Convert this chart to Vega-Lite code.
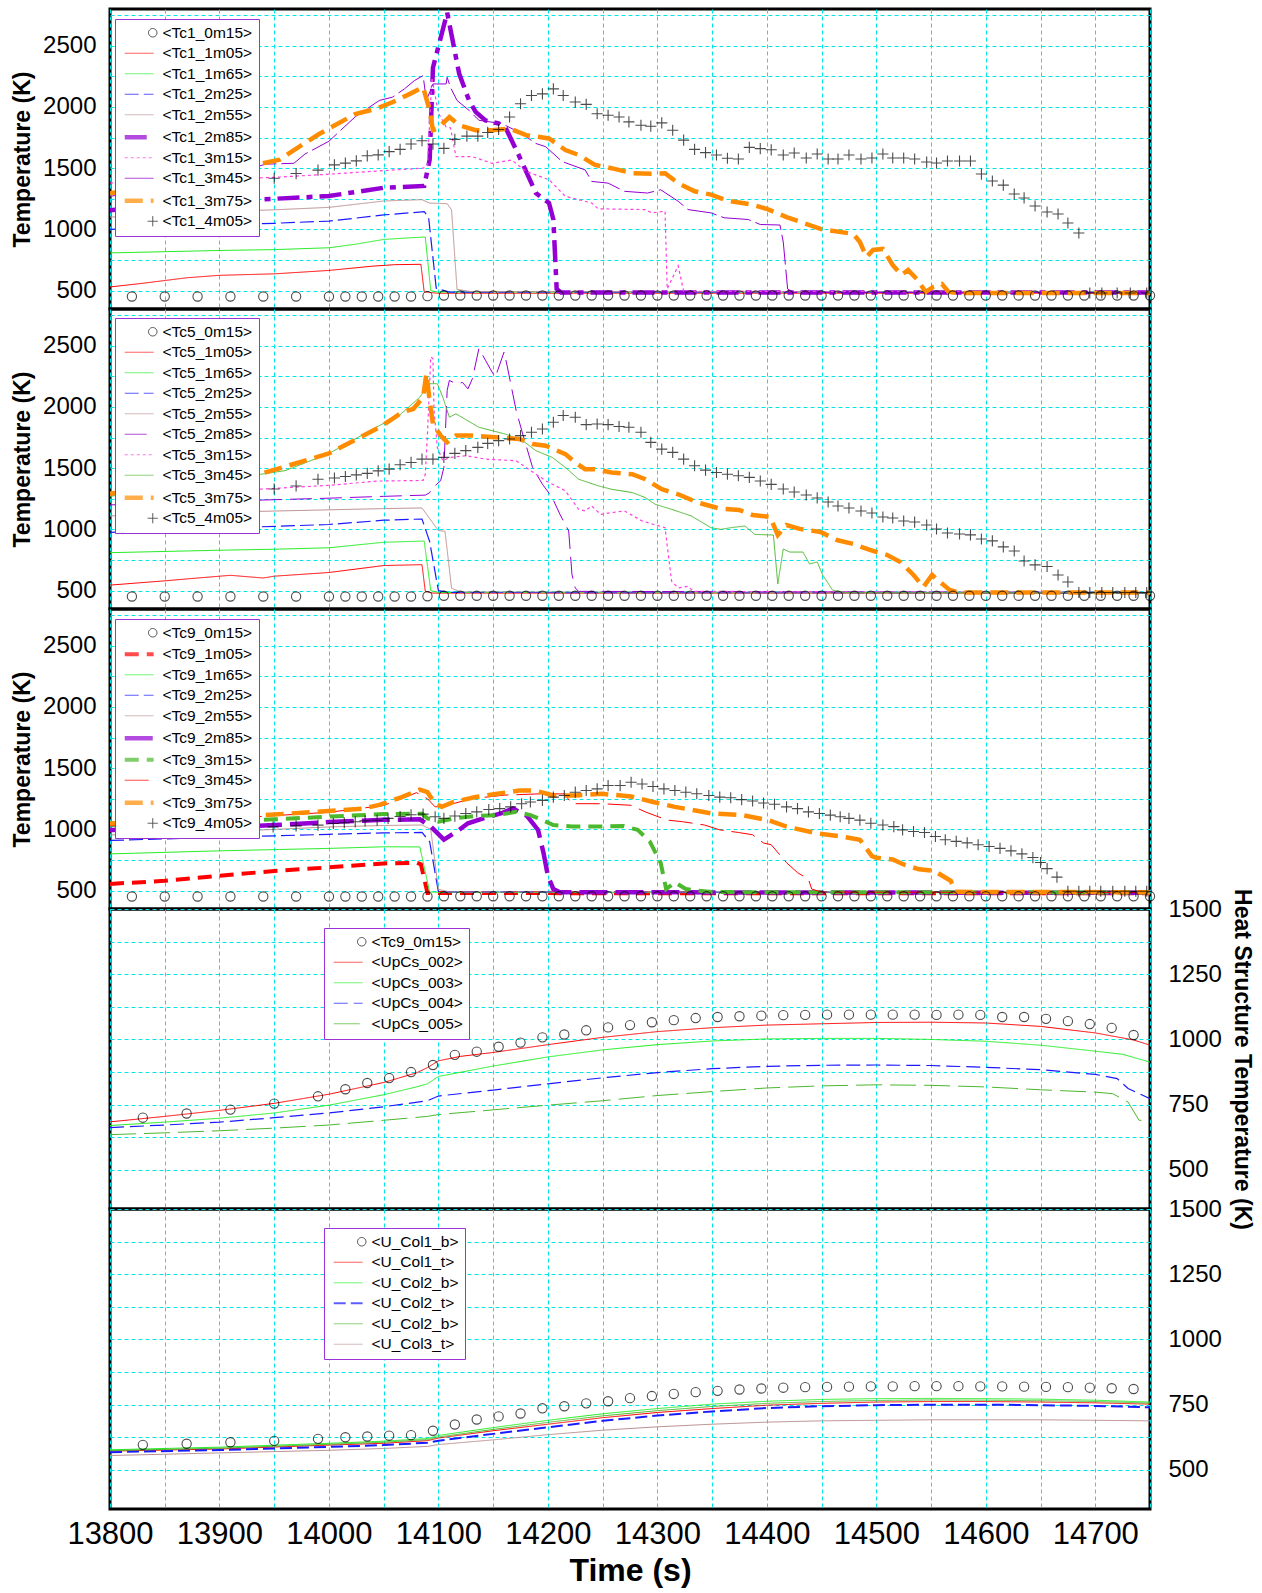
{
  "$schema": "https://vega.github.io/schema/vega-lite/v6.json",
  "background": "white",
  "padding": {"left": 10, "top": 1, "right": 5, "bottom": 3},
  "spacing": 0,
  "bounds": "flush",
  "datasets": {
    "aP": [
      {"s":"<Tc1_0m15>","t":13820,"v":452},{"s":"<Tc1_0m15>","t":13850,"v":452},{"s":"<Tc1_0m15>","t":13880,"v":452},{"s":"<Tc1_0m15>","t":13910,"v":452},{"s":"<Tc1_0m15>","t":13940,"v":452},{"s":"<Tc1_0m15>","t":13970,"v":452},{"s":"<Tc1_0m15>","t":14000,"v":452},{"s":"<Tc1_0m15>","t":14015,"v":452},{"s":"<Tc1_0m15>","t":14030,"v":452},{"s":"<Tc1_0m15>","t":14045,"v":452},{"s":"<Tc1_0m15>","t":14060,"v":452},{"s":"<Tc1_0m15>","t":14075,"v":452},{"s":"<Tc1_0m15>","t":14090,"v":455},
      {"s":"<Tc1_0m15>","t":14105,"v":460},{"s":"<Tc1_0m15>","t":14120,"v":460},{"s":"<Tc1_0m15>","t":14135,"v":460},{"s":"<Tc1_0m15>","t":14150,"v":460},{"s":"<Tc1_0m15>","t":14165,"v":460},{"s":"<Tc1_0m15>","t":14180,"v":460},{"s":"<Tc1_0m15>","t":14195,"v":460},{"s":"<Tc1_0m15>","t":14210,"v":460},{"s":"<Tc1_0m15>","t":14225,"v":460},{"s":"<Tc1_0m15>","t":14240,"v":460},{"s":"<Tc1_0m15>","t":14255,"v":460},{"s":"<Tc1_0m15>","t":14270,"v":460},{"s":"<Tc1_0m15>","t":14285,"v":460},{"s":"<Tc1_0m15>","t":14300,"v":460},{"s":"<Tc1_0m15>","t":14315,"v":460},{"s":"<Tc1_0m15>","t":14330,"v":460},{"s":"<Tc1_0m15>","t":14345,"v":460},{"s":"<Tc1_0m15>","t":14360,"v":460},{"s":"<Tc1_0m15>","t":14375,"v":460},{"s":"<Tc1_0m15>","t":14390,"v":460},{"s":"<Tc1_0m15>","t":14405,"v":460},{"s":"<Tc1_0m15>","t":14420,"v":460},{"s":"<Tc1_0m15>","t":14435,"v":460},{"s":"<Tc1_0m15>","t":14450,"v":460},{"s":"<Tc1_0m15>","t":14465,"v":460},{"s":"<Tc1_0m15>","t":14480,"v":460},{"s":"<Tc1_0m15>","t":14495,"v":460},{"s":"<Tc1_0m15>","t":14510,"v":460},{"s":"<Tc1_0m15>","t":14525,"v":460},{"s":"<Tc1_0m15>","t":14540,"v":460},{"s":"<Tc1_0m15>","t":14555,"v":460},{"s":"<Tc1_0m15>","t":14570,"v":460},{"s":"<Tc1_0m15>","t":14585,"v":460},{"s":"<Tc1_0m15>","t":14600,"v":460},{"s":"<Tc1_0m15>","t":14615,"v":460},{"s":"<Tc1_0m15>","t":14630,"v":460},{"s":"<Tc1_0m15>","t":14645,"v":460},{"s":"<Tc1_0m15>","t":14660,"v":460},{"s":"<Tc1_0m15>","t":14675,"v":460},{"s":"<Tc1_0m15>","t":14690,"v":460},{"s":"<Tc1_0m15>","t":14705,"v":460},{"s":"<Tc1_0m15>","t":14720,"v":460},{"s":"<Tc1_0m15>","t":14735,"v":460},{"s":"<Tc1_0m15>","t":14750,"v":460},
      {"s":"<Tc1_4m05>","t":13950,"v":1418},{"s":"<Tc1_4m05>","t":13970,"v":1456},{"s":"<Tc1_4m05>","t":13990,"v":1484},{"s":"<Tc1_4m05>","t":14005,"v":1527},{"s":"<Tc1_4m05>","t":14015,"v":1541},{"s":"<Tc1_4m05>","t":14025,"v":1560},{"s":"<Tc1_4m05>","t":14035,"v":1601},{"s":"<Tc1_4m05>","t":14045,"v":1609},{"s":"<Tc1_4m05>","t":14055,"v":1635},{"s":"<Tc1_4m05>","t":14065,"v":1654},{"s":"<Tc1_4m05>","t":14075,"v":1697},{"s":"<Tc1_4m05>","t":14085,"v":1724},{"s":"<Tc1_4m05>","t":14095,"v":1697},{"s":"<Tc1_4m05>","t":14105,"v":1662},{"s":"<Tc1_4m05>","t":14115,"v":1735},{"s":"<Tc1_4m05>","t":14126,"v":1762},{"s":"<Tc1_4m05>","t":14136,"v":1762},{"s":"<Tc1_4m05>","t":14145,"v":1792},{"s":"<Tc1_4m05>","t":14155,"v":1816},{"s":"<Tc1_4m05>","t":14165,"v":1918},{"s":"<Tc1_4m05>","t":14175,"v":2026},{"s":"<Tc1_4m05>","t":14185,"v":2094},{"s":"<Tc1_4m05>","t":14195,"v":2107},{"s":"<Tc1_4m05>","t":14205,"v":2148},{"s":"<Tc1_4m05>","t":14214,"v":2094},{"s":"<Tc1_4m05>","t":14225,"v":2040},{"s":"<Tc1_4m05>","t":14235,"v":2021},{"s":"<Tc1_4m05>","t":14245,"v":1945},{"s":"<Tc1_4m05>","t":14255,"v":1932},{"s":"<Tc1_4m05>","t":14265,"v":1918},{"s":"<Tc1_4m05>","t":14274,"v":1878},{"s":"<Tc1_4m05>","t":14285,"v":1851},{"s":"<Tc1_4m05>","t":14294,"v":1843},{"s":"<Tc1_4m05>","t":14304,"v":1870},{"s":"<Tc1_4m05>","t":14314,"v":1810},{"s":"<Tc1_4m05>","t":14324,"v":1729},{"s":"<Tc1_4m05>","t":14334,"v":1654},{"s":"<Tc1_4m05>","t":14344,"v":1627},{"s":"<Tc1_4m05>","t":14354,"v":1608},{"s":"<Tc1_4m05>","t":14364,"v":1581},{"s":"<Tc1_4m05>","t":14374,"v":1575},{"s":"<Tc1_4m05>","t":14384,"v":1670},{"s":"<Tc1_4m05>","t":14394,"v":1660},{"s":"<Tc1_4m05>","t":14404,"v":1650},{"s":"<Tc1_4m05>","t":14415,"v":1608},{"s":"<Tc1_4m05>","t":14425,"v":1624},{"s":"<Tc1_4m05>","t":14436,"v":1583},{"s":"<Tc1_4m05>","t":14446,"v":1616},{"s":"<Tc1_4m05>","t":14456,"v":1575},{"s":"<Tc1_4m05>","t":14465,"v":1575},{"s":"<Tc1_4m05>","t":14475,"v":1608},{"s":"<Tc1_4m05>","t":14486,"v":1575},{"s":"<Tc1_4m05>","t":14496,"v":1583},{"s":"<Tc1_4m05>","t":14506,"v":1616},{"s":"<Tc1_4m05>","t":14515,"v":1583},{"s":"<Tc1_4m05>","t":14525,"v":1583},{"s":"<Tc1_4m05>","t":14535,"v":1575},{"s":"<Tc1_4m05>","t":14546,"v":1550},{"s":"<Tc1_4m05>","t":14555,"v":1542},{"s":"<Tc1_4m05>","t":14565,"v":1559},{"s":"<Tc1_4m05>","t":14576,"v":1559},{"s":"<Tc1_4m05>","t":14586,"v":1559},{"s":"<Tc1_4m05>","t":14596,"v":1452},{"s":"<Tc1_4m05>","t":14606,"v":1395},{"s":"<Tc1_4m05>","t":14616,"v":1362},{"s":"<Tc1_4m05>","t":14626,"v":1289},{"s":"<Tc1_4m05>","t":14635,"v":1257},{"s":"<Tc1_4m05>","t":14645,"v":1191},{"s":"<Tc1_4m05>","t":14656,"v":1142},{"s":"<Tc1_4m05>","t":14666,"v":1126},{"s":"<Tc1_4m05>","t":14675,"v":1052},{"s":"<Tc1_4m05>","t":14685,"v":971},{"s":"<Tc1_4m05>","t":14695,"v":481},{"s":"<Tc1_4m05>","t":14706,"v":481},{"s":"<Tc1_4m05>","t":14720,"v":481},{"s":"<Tc1_4m05>","t":14732,"v":481},{"s":"<Tc1_4m05>","t":14747,"v":481}
    ],
    "aL": [
      {"s":"<Tc1_1m05>","t":13800,"v":530},{"s":"<Tc1_1m05>","t":13830,"v":560},{"s":"<Tc1_1m05>","t":13870,"v":605},{"s":"<Tc1_1m05>","t":13900,"v":625},{"s":"<Tc1_1m05>","t":13950,"v":637},{"s":"<Tc1_1m05>","t":14000,"v":665},{"s":"<Tc1_1m05>","t":14040,"v":700},{"s":"<Tc1_1m05>","t":14060,"v":712},{"s":"<Tc1_1m05>","t":14084,"v":715},{"s":"<Tc1_1m05>","t":14087,"v":490},{"s":"<Tc1_1m05>","t":14100,"v":478},{"s":"<Tc1_1m05>","t":14750,"v":478},
      {"s":"<Tc1_1m65>","t":13800,"v":808},{"s":"<Tc1_1m65>","t":13850,"v":818},{"s":"<Tc1_1m65>","t":13900,"v":828},{"s":"<Tc1_1m65>","t":13950,"v":835},{"s":"<Tc1_1m65>","t":14000,"v":850},{"s":"<Tc1_1m65>","t":14025,"v":880},{"s":"<Tc1_1m65>","t":14050,"v":918},{"s":"<Tc1_1m65>","t":14075,"v":932},{"s":"<Tc1_1m65>","t":14088,"v":938},{"s":"<Tc1_1m65>","t":14093,"v":500},{"s":"<Tc1_1m65>","t":14100,"v":488},{"s":"<Tc1_1m65>","t":14750,"v":485},
      {"s":"<Tc1_2m25>","t":13800,"v":1000},{"s":"<Tc1_2m25>","t":13850,"v":1020},{"s":"<Tc1_2m25>","t":13900,"v":1038},{"s":"<Tc1_2m25>","t":13950,"v":1050},{"s":"<Tc1_2m25>","t":14000,"v":1068},{"s":"<Tc1_2m25>","t":14050,"v":1118},{"s":"<Tc1_2m25>","t":14087,"v":1145},{"s":"<Tc1_2m25>","t":14091,"v":1100},{"s":"<Tc1_2m25>","t":14098,"v":520},{"s":"<Tc1_2m25>","t":14110,"v":488},{"s":"<Tc1_2m25>","t":14750,"v":485},
      {"s":"<Tc1_2m55>","t":13800,"v":1100},{"s":"<Tc1_2m55>","t":13850,"v":1128},{"s":"<Tc1_2m55>","t":13900,"v":1148},{"s":"<Tc1_2m55>","t":13950,"v":1160},{"s":"<Tc1_2m55>","t":14000,"v":1180},{"s":"<Tc1_2m55>","t":14050,"v":1232},{"s":"<Tc1_2m55>","t":14085,"v":1243},{"s":"<Tc1_2m55>","t":14092,"v":1215},{"s":"<Tc1_2m55>","t":14108,"v":1210},{"s":"<Tc1_2m55>","t":14112,"v":1160},{"s":"<Tc1_2m55>","t":14117,"v":510},{"s":"<Tc1_2m55>","t":14130,"v":492},{"s":"<Tc1_2m55>","t":14750,"v":488},
      {"s":"<Tc1_2m85>","t":13800,"v":1156},{"s":"<Tc1_2m85>","t":13850,"v":1200},{"s":"<Tc1_2m85>","t":13900,"v":1232},{"s":"<Tc1_2m85>","t":13950,"v":1250},{"s":"<Tc1_2m85>","t":14000,"v":1273},{"s":"<Tc1_2m85>","t":14050,"v":1340},{"s":"<Tc1_2m85>","t":14087,"v":1355},{"s":"<Tc1_2m85>","t":14092,"v":1570},{"s":"<Tc1_2m85>","t":14095,"v":2320},{"s":"<Tc1_2m85>","t":14108,"v":2770},{"s":"<Tc1_2m85>","t":14119,"v":2270},{"s":"<Tc1_2m85>","t":14128,"v":2053},{"s":"<Tc1_2m85>","t":14134,"v":1960},{"s":"<Tc1_2m85>","t":14143,"v":1890},{"s":"<Tc1_2m85>","t":14155,"v":1865},{"s":"<Tc1_2m85>","t":14161,"v":1837},{"s":"<Tc1_2m85>","t":14174,"v":1594},{"s":"<Tc1_2m85>","t":14189,"v":1297},{"s":"<Tc1_2m85>","t":14201,"v":1216},{"s":"<Tc1_2m85>","t":14205,"v":1081},{"s":"<Tc1_2m85>","t":14208,"v":514},{"s":"<Tc1_2m85>","t":14212,"v":485},{"s":"<Tc1_2m85>","t":14750,"v":485},
      {"s":"<Tc1_3m15>","t":13800,"v":1380},{"s":"<Tc1_3m15>","t":13850,"v":1395},{"s":"<Tc1_3m15>","t":13900,"v":1410},{"s":"<Tc1_3m15>","t":13950,"v":1425},{"s":"<Tc1_3m15>","t":14000,"v":1451},{"s":"<Tc1_3m15>","t":14050,"v":1480},{"s":"<Tc1_3m15>","t":14086,"v":1500},{"s":"<Tc1_3m15>","t":14090,"v":1520},{"s":"<Tc1_3m15>","t":14094,"v":2240},{"s":"<Tc1_3m15>","t":14100,"v":1950},{"s":"<Tc1_3m15>","t":14107,"v":1837},{"s":"<Tc1_3m15>","t":14111,"v":1830},{"s":"<Tc1_3m15>","t":14116,"v":1594},{"s":"<Tc1_3m15>","t":14131,"v":1594},{"s":"<Tc1_3m15>","t":14149,"v":1540},{"s":"<Tc1_3m15>","t":14167,"v":1567},{"s":"<Tc1_3m15>","t":14180,"v":1473},{"s":"<Tc1_3m15>","t":14201,"v":1406},{"s":"<Tc1_3m15>","t":14216,"v":1270},{"s":"<Tc1_3m15>","t":14240,"v":1216},{"s":"<Tc1_3m15>","t":14246,"v":1168},{"s":"<Tc1_3m15>","t":14289,"v":1162},{"s":"<Tc1_3m15>","t":14295,"v":1135},{"s":"<Tc1_3m15>","t":14307,"v":1149},{"s":"<Tc1_3m15>","t":14309,"v":514},{"s":"<Tc1_3m15>","t":14319,"v":703},{"s":"<Tc1_3m15>","t":14324,"v":495},{"s":"<Tc1_3m15>","t":14750,"v":485},
      {"s":"<Tc1_3m45>","t":13800,"v":1270},{"s":"<Tc1_3m45>","t":13850,"v":1340},{"s":"<Tc1_3m45>","t":13900,"v":1420},{"s":"<Tc1_3m45>","t":13942,"v":1533},{"s":"<Tc1_3m45>","t":13968,"v":1540},{"s":"<Tc1_3m45>","t":13978,"v":1615},{"s":"<Tc1_3m45>","t":14000,"v":1720},{"s":"<Tc1_3m45>","t":14024,"v":1920},{"s":"<Tc1_3m45>","t":14046,"v":2053},{"s":"<Tc1_3m45>","t":14058,"v":2080},{"s":"<Tc1_3m45>","t":14069,"v":2148},{"s":"<Tc1_3m45>","t":14078,"v":2215},{"s":"<Tc1_3m45>","t":14086,"v":2256},{"s":"<Tc1_3m45>","t":14089,"v":2053},{"s":"<Tc1_3m45>","t":14095,"v":2188},{"s":"<Tc1_3m45>","t":14107,"v":2188},{"s":"<Tc1_3m45>","t":14108,"v":2242},{"s":"<Tc1_3m45>","t":14111,"v":2160},{"s":"<Tc1_3m45>","t":14117,"v":2053},{"s":"<Tc1_3m45>","t":14128,"v":1972},{"s":"<Tc1_3m45>","t":14137,"v":1891},{"s":"<Tc1_3m45>","t":14158,"v":1864},{"s":"<Tc1_3m45>","t":14176,"v":1783},{"s":"<Tc1_3m45>","t":14189,"v":1702},{"s":"<Tc1_3m45>","t":14198,"v":1675},{"s":"<Tc1_3m45>","t":14213,"v":1554},{"s":"<Tc1_3m45>","t":14234,"v":1486},{"s":"<Tc1_3m45>","t":14240,"v":1392},{"s":"<Tc1_3m45>","t":14255,"v":1378},{"s":"<Tc1_3m45>","t":14270,"v":1311},{"s":"<Tc1_3m45>","t":14291,"v":1297},{"s":"<Tc1_3m45>","t":14303,"v":1324},{"s":"<Tc1_3m45>","t":14319,"v":1230},{"s":"<Tc1_3m45>","t":14328,"v":1162},{"s":"<Tc1_3m45>","t":14349,"v":1135},{"s":"<Tc1_3m45>","t":14361,"v":1095},{"s":"<Tc1_3m45>","t":14383,"v":1081},{"s":"<Tc1_3m45>","t":14394,"v":1040},{"s":"<Tc1_3m45>","t":14412,"v":1036},{"s":"<Tc1_3m45>","t":14415,"v":897},{"s":"<Tc1_3m45>","t":14419,"v":513},{"s":"<Tc1_3m45>","t":14425,"v":485},{"s":"<Tc1_3m45>","t":14750,"v":485},
      {"s":"<Tc1_3m75>","t":13800,"v":1292},{"s":"<Tc1_3m75>","t":13850,"v":1390},{"s":"<Tc1_3m75>","t":13900,"v":1490},{"s":"<Tc1_3m75>","t":13936,"v":1533},{"s":"<Tc1_3m75>","t":13955,"v":1570},{"s":"<Tc1_3m75>","t":13967,"v":1642},{"s":"<Tc1_3m75>","t":13991,"v":1779},{"s":"<Tc1_3m75>","t":14024,"v":1942},{"s":"<Tc1_3m75>","t":14042,"v":1983},{"s":"<Tc1_3m75>","t":14058,"v":2038},{"s":"<Tc1_3m75>","t":14074,"v":2107},{"s":"<Tc1_3m75>","t":14086,"v":2161},{"s":"<Tc1_3m75>","t":14092,"v":1972},{"s":"<Tc1_3m75>","t":14095,"v":1810},{"s":"<Tc1_3m75>","t":14099,"v":1824},{"s":"<Tc1_3m75>","t":14110,"v":1918},{"s":"<Tc1_3m75>","t":14119,"v":1851},{"s":"<Tc1_3m75>","t":14134,"v":1810},{"s":"<Tc1_3m75>","t":14149,"v":1810},{"s":"<Tc1_3m75>","t":14165,"v":1824},{"s":"<Tc1_3m75>","t":14180,"v":1770},{"s":"<Tc1_3m75>","t":14201,"v":1743},{"s":"<Tc1_3m75>","t":14216,"v":1648},{"s":"<Tc1_3m75>","t":14228,"v":1608},{"s":"<Tc1_3m75>","t":14243,"v":1527},{"s":"<Tc1_3m75>","t":14258,"v":1500},{"s":"<Tc1_3m75>","t":14277,"v":1459},{"s":"<Tc1_3m75>","t":14295,"v":1454},{"s":"<Tc1_3m75>","t":14307,"v":1459},{"s":"<Tc1_3m75>","t":14319,"v":1378},{"s":"<Tc1_3m75>","t":14334,"v":1311},{"s":"<Tc1_3m75>","t":14349,"v":1284},{"s":"<Tc1_3m75>","t":14364,"v":1235},{"s":"<Tc1_3m75>","t":14386,"v":1203},{"s":"<Tc1_3m75>","t":14400,"v":1167},{"s":"<Tc1_3m75>","t":14418,"v":1101},{"s":"<Tc1_3m75>","t":14449,"v":1004},{"s":"<Tc1_3m75>","t":14479,"v":963},{"s":"<Tc1_3m75>","t":14485,"v":897},{"s":"<Tc1_3m75>","t":14491,"v":775},{"s":"<Tc1_3m75>","t":14497,"v":832},{"s":"<Tc1_3m75>","t":14506,"v":840},{"s":"<Tc1_3m75>","t":14515,"v":709},{"s":"<Tc1_3m75>","t":14523,"v":628},{"s":"<Tc1_3m75>","t":14529,"v":668},{"s":"<Tc1_3m75>","t":14537,"v":595},{"s":"<Tc1_3m75>","t":14545,"v":489},{"s":"<Tc1_3m75>","t":14552,"v":530},{"s":"<Tc1_3m75>","t":14560,"v":554},{"s":"<Tc1_3m75>","t":14566,"v":489},{"s":"<Tc1_3m75>","t":14575,"v":480},{"s":"<Tc1_3m75>","t":14750,"v":480}
    ],
    "bP": [
      {"s":"<Tc5_0m15>","t":13820,"v":452},{"s":"<Tc5_0m15>","t":13850,"v":452},{"s":"<Tc5_0m15>","t":13880,"v":452},{"s":"<Tc5_0m15>","t":13910,"v":452},{"s":"<Tc5_0m15>","t":13940,"v":452},{"s":"<Tc5_0m15>","t":13970,"v":452},{"s":"<Tc5_0m15>","t":14000,"v":452},{"s":"<Tc5_0m15>","t":14015,"v":452},{"s":"<Tc5_0m15>","t":14030,"v":452},{"s":"<Tc5_0m15>","t":14045,"v":452},{"s":"<Tc5_0m15>","t":14060,"v":452},{"s":"<Tc5_0m15>","t":14075,"v":452},{"s":"<Tc5_0m15>","t":14090,"v":454},
      {"s":"<Tc5_0m15>","t":14105,"v":458},{"s":"<Tc5_0m15>","t":14120,"v":458},{"s":"<Tc5_0m15>","t":14135,"v":458},{"s":"<Tc5_0m15>","t":14150,"v":458},{"s":"<Tc5_0m15>","t":14165,"v":458},{"s":"<Tc5_0m15>","t":14180,"v":458},{"s":"<Tc5_0m15>","t":14195,"v":458},{"s":"<Tc5_0m15>","t":14210,"v":458},{"s":"<Tc5_0m15>","t":14225,"v":458},{"s":"<Tc5_0m15>","t":14240,"v":458},{"s":"<Tc5_0m15>","t":14255,"v":458},{"s":"<Tc5_0m15>","t":14270,"v":458},{"s":"<Tc5_0m15>","t":14285,"v":458},{"s":"<Tc5_0m15>","t":14300,"v":458},{"s":"<Tc5_0m15>","t":14315,"v":458},{"s":"<Tc5_0m15>","t":14330,"v":458},{"s":"<Tc5_0m15>","t":14345,"v":458},{"s":"<Tc5_0m15>","t":14360,"v":458},{"s":"<Tc5_0m15>","t":14375,"v":458},{"s":"<Tc5_0m15>","t":14390,"v":458},{"s":"<Tc5_0m15>","t":14405,"v":458},{"s":"<Tc5_0m15>","t":14420,"v":458},{"s":"<Tc5_0m15>","t":14435,"v":458},{"s":"<Tc5_0m15>","t":14450,"v":458},{"s":"<Tc5_0m15>","t":14465,"v":458},{"s":"<Tc5_0m15>","t":14480,"v":458},{"s":"<Tc5_0m15>","t":14495,"v":458},{"s":"<Tc5_0m15>","t":14510,"v":458},{"s":"<Tc5_0m15>","t":14525,"v":458},{"s":"<Tc5_0m15>","t":14540,"v":458},{"s":"<Tc5_0m15>","t":14555,"v":458},{"s":"<Tc5_0m15>","t":14570,"v":458},{"s":"<Tc5_0m15>","t":14585,"v":458},{"s":"<Tc5_0m15>","t":14600,"v":458},{"s":"<Tc5_0m15>","t":14615,"v":458},{"s":"<Tc5_0m15>","t":14630,"v":458},{"s":"<Tc5_0m15>","t":14645,"v":458},{"s":"<Tc5_0m15>","t":14660,"v":458},{"s":"<Tc5_0m15>","t":14675,"v":458},{"s":"<Tc5_0m15>","t":14690,"v":458},{"s":"<Tc5_0m15>","t":14705,"v":458},{"s":"<Tc5_0m15>","t":14720,"v":458},{"s":"<Tc5_0m15>","t":14735,"v":458},{"s":"<Tc5_0m15>","t":14750,"v":458},
      {"s":"<Tc5_4m05>","t":13950,"v":1330},{"s":"<Tc5_4m05>","t":13970,"v":1355},{"s":"<Tc5_4m05>","t":13990,"v":1410},{"s":"<Tc5_4m05>","t":14005,"v":1420},{"s":"<Tc5_4m05>","t":14015,"v":1432},{"s":"<Tc5_4m05>","t":14025,"v":1445},{"s":"<Tc5_4m05>","t":14035,"v":1458},{"s":"<Tc5_4m05>","t":14045,"v":1478},{"s":"<Tc5_4m05>","t":14055,"v":1492},{"s":"<Tc5_4m05>","t":14065,"v":1528},{"s":"<Tc5_4m05>","t":14075,"v":1547},{"s":"<Tc5_4m05>","t":14085,"v":1574},{"s":"<Tc5_4m05>","t":14095,"v":1574},{"s":"<Tc5_4m05>","t":14105,"v":1588},{"s":"<Tc5_4m05>","t":14115,"v":1621},{"s":"<Tc5_4m05>","t":14125,"v":1643},{"s":"<Tc5_4m05>","t":14136,"v":1670},{"s":"<Tc5_4m05>","t":14145,"v":1703},{"s":"<Tc5_4m05>","t":14155,"v":1725},{"s":"<Tc5_4m05>","t":14165,"v":1738},{"s":"<Tc5_4m05>","t":14175,"v":1766},{"s":"<Tc5_4m05>","t":14185,"v":1793},{"s":"<Tc5_4m05>","t":14195,"v":1820},{"s":"<Tc5_4m05>","t":14205,"v":1875},{"s":"<Tc5_4m05>","t":14214,"v":1930},{"s":"<Tc5_4m05>","t":14225,"v":1916},{"s":"<Tc5_4m05>","t":14235,"v":1856},{"s":"<Tc5_4m05>","t":14245,"v":1861},{"s":"<Tc5_4m05>","t":14255,"v":1856},{"s":"<Tc5_4m05>","t":14265,"v":1840},{"s":"<Tc5_4m05>","t":14274,"v":1834},{"s":"<Tc5_4m05>","t":14285,"v":1793},{"s":"<Tc5_4m05>","t":14294,"v":1711},{"s":"<Tc5_4m05>","t":14304,"v":1656},{"s":"<Tc5_4m05>","t":14314,"v":1629},{"s":"<Tc5_4m05>","t":14324,"v":1574},{"s":"<Tc5_4m05>","t":14334,"v":1520},{"s":"<Tc5_4m05>","t":14344,"v":1484},{"s":"<Tc5_4m05>","t":14354,"v":1465},{"s":"<Tc5_4m05>","t":14364,"v":1451},{"s":"<Tc5_4m05>","t":14374,"v":1438},{"s":"<Tc5_4m05>","t":14384,"v":1425},{"s":"<Tc5_4m05>","t":14394,"v":1395},{"s":"<Tc5_4m05>","t":14404,"v":1368},{"s":"<Tc5_4m05>","t":14415,"v":1330},{"s":"<Tc5_4m05>","t":14425,"v":1305},{"s":"<Tc5_4m05>","t":14436,"v":1281},{"s":"<Tc5_4m05>","t":14446,"v":1257},{"s":"<Tc5_4m05>","t":14456,"v":1224},{"s":"<Tc5_4m05>","t":14465,"v":1191},{"s":"<Tc5_4m05>","t":14475,"v":1175},{"s":"<Tc5_4m05>","t":14486,"v":1150},{"s":"<Tc5_4m05>","t":14496,"v":1134},{"s":"<Tc5_4m05>","t":14506,"v":1101},{"s":"<Tc5_4m05>","t":14515,"v":1093},{"s":"<Tc5_4m05>","t":14525,"v":1069},{"s":"<Tc5_4m05>","t":14535,"v":1060},{"s":"<Tc5_4m05>","t":14546,"v":1036},{"s":"<Tc5_4m05>","t":14555,"v":1003},{"s":"<Tc5_4m05>","t":14565,"v":971},{"s":"<Tc5_4m05>","t":14576,"v":963},{"s":"<Tc5_4m05>","t":14586,"v":955},{"s":"<Tc5_4m05>","t":14596,"v":922},{"s":"<Tc5_4m05>","t":14606,"v":906},{"s":"<Tc5_4m05>","t":14616,"v":857},{"s":"<Tc5_4m05>","t":14626,"v":824},{"s":"<Tc5_4m05>","t":14635,"v":742},{"s":"<Tc5_4m05>","t":14645,"v":710},{"s":"<Tc5_4m05>","t":14656,"v":697},{"s":"<Tc5_4m05>","t":14666,"v":628},{"s":"<Tc5_4m05>","t":14675,"v":571},{"s":"<Tc5_4m05>","t":14685,"v":485},{"s":"<Tc5_4m05>","t":14695,"v":485},{"s":"<Tc5_4m05>","t":14706,"v":485},{"s":"<Tc5_4m05>","t":14716,"v":485},{"s":"<Tc5_4m05>","t":14727,"v":485},{"s":"<Tc5_4m05>","t":14737,"v":485},{"s":"<Tc5_4m05>","t":14747,"v":485}
    ],
    "bL": [
      {"s":"<Tc5_1m05>","t":13800,"v":545},{"s":"<Tc5_1m05>","t":13850,"v":580},{"s":"<Tc5_1m05>","t":13880,"v":603},{"s":"<Tc5_1m05>","t":13910,"v":625},{"s":"<Tc5_1m05>","t":13940,"v":603},{"s":"<Tc5_1m05>","t":13950,"v":618},{"s":"<Tc5_1m05>","t":14000,"v":648},{"s":"<Tc5_1m05>","t":14050,"v":705},{"s":"<Tc5_1m05>","t":14085,"v":712},{"s":"<Tc5_1m05>","t":14088,"v":495},{"s":"<Tc5_1m05>","t":14095,"v":480},{"s":"<Tc5_1m05>","t":14750,"v":480},
      {"s":"<Tc5_1m65>","t":13800,"v":810},{"s":"<Tc5_1m65>","t":13900,"v":830},{"s":"<Tc5_1m65>","t":13950,"v":838},{"s":"<Tc5_1m65>","t":14000,"v":850},{"s":"<Tc5_1m65>","t":14050,"v":895},{"s":"<Tc5_1m65>","t":14087,"v":905},{"s":"<Tc5_1m65>","t":14093,"v":500},{"s":"<Tc5_1m65>","t":14100,"v":485},{"s":"<Tc5_1m65>","t":14750,"v":482},
      {"s":"<Tc5_2m25>","t":13800,"v":975},{"s":"<Tc5_2m25>","t":13900,"v":1010},{"s":"<Tc5_2m25>","t":14000,"v":1040},{"s":"<Tc5_2m25>","t":14050,"v":1075},{"s":"<Tc5_2m25>","t":14085,"v":1085},{"s":"<Tc5_2m25>","t":14092,"v":900},{"s":"<Tc5_2m25>","t":14100,"v":500},{"s":"<Tc5_2m25>","t":14110,"v":485},{"s":"<Tc5_2m25>","t":14750,"v":482},
      {"s":"<Tc5_2m55>","t":13800,"v":1110},{"s":"<Tc5_2m55>","t":13900,"v":1140},{"s":"<Tc5_2m55>","t":14000,"v":1160},{"s":"<Tc5_2m55>","t":14050,"v":1170},{"s":"<Tc5_2m55>","t":14085,"v":1175},{"s":"<Tc5_2m55>","t":14100,"v":990},{"s":"<Tc5_2m55>","t":14106,"v":985},{"s":"<Tc5_2m55>","t":14112,"v":520},{"s":"<Tc5_2m55>","t":14120,"v":490},{"s":"<Tc5_2m55>","t":14750,"v":486},
      {"s":"<Tc5_2m85>","t":13800,"v":1200},{"s":"<Tc5_2m85>","t":13900,"v":1230},{"s":"<Tc5_2m85>","t":14000,"v":1255},{"s":"<Tc5_2m85>","t":14050,"v":1270},{"s":"<Tc5_2m85>","t":14088,"v":1280},{"s":"<Tc5_2m85>","t":14092,"v":1300},{"s":"<Tc5_2m85>","t":14095,"v":1342},{"s":"<Tc5_2m85>","t":14102,"v":1397},{"s":"<Tc5_2m85>","t":14105,"v":1506},{"s":"<Tc5_2m85>","t":14108,"v":2135},{"s":"<Tc5_2m85>","t":14110,"v":2217},{"s":"<Tc5_2m85>","t":14116,"v":2190},{"s":"<Tc5_2m85>","t":14122,"v":2200},{"s":"<Tc5_2m85>","t":14127,"v":2148},{"s":"<Tc5_2m85>","t":14131,"v":2230},{"s":"<Tc5_2m85>","t":14137,"v":2477},{"s":"<Tc5_2m85>","t":14143,"v":2381},{"s":"<Tc5_2m85>","t":14149,"v":2285},{"s":"<Tc5_2m85>","t":14152,"v":2244},{"s":"<Tc5_2m85>","t":14160,"v":2449},{"s":"<Tc5_2m85>","t":14163,"v":2326},{"s":"<Tc5_2m85>","t":14171,"v":1971},{"s":"<Tc5_2m85>","t":14177,"v":1779},{"s":"<Tc5_2m85>","t":14186,"v":1506},{"s":"<Tc5_2m85>","t":14195,"v":1369},{"s":"<Tc5_2m85>","t":14204,"v":1260},{"s":"<Tc5_2m85>","t":14211,"v":1123},{"s":"<Tc5_2m85>","t":14219,"v":987},{"s":"<Tc5_2m85>","t":14222,"v":631},{"s":"<Tc5_2m85>","t":14225,"v":522},{"s":"<Tc5_2m85>","t":14228,"v":494},{"s":"<Tc5_2m85>","t":14750,"v":485},
      {"s":"<Tc5_3m15>","t":13800,"v":1280},{"s":"<Tc5_3m15>","t":13900,"v":1310},{"s":"<Tc5_3m15>","t":14000,"v":1360},{"s":"<Tc5_3m15>","t":14045,"v":1395},{"s":"<Tc5_3m15>","t":14086,"v":1400},{"s":"<Tc5_3m15>","t":14088,"v":1450},{"s":"<Tc5_3m15>","t":14090,"v":1779},{"s":"<Tc5_3m15>","t":14093,"v":2408},{"s":"<Tc5_3m15>","t":14095,"v":2394},{"s":"<Tc5_3m15>","t":14096,"v":1971},{"s":"<Tc5_3m15>","t":14099,"v":1670},{"s":"<Tc5_3m15>","t":14104,"v":1561},{"s":"<Tc5_3m15>","t":14107,"v":1574},{"s":"<Tc5_3m15>","t":14111,"v":1588},{"s":"<Tc5_3m15>","t":14125,"v":1602},{"s":"<Tc5_3m15>","t":14143,"v":1574},{"s":"<Tc5_3m15>","t":14171,"v":1561},{"s":"<Tc5_3m15>","t":14180,"v":1506},{"s":"<Tc5_3m15>","t":14198,"v":1397},{"s":"<Tc5_3m15>","t":14216,"v":1315},{"s":"<Tc5_3m15>","t":14228,"v":1164},{"s":"<Tc5_3m15>","t":14234,"v":1151},{"s":"<Tc5_3m15>","t":14240,"v":1192},{"s":"<Tc5_3m15>","t":14248,"v":1123},{"s":"<Tc5_3m15>","t":14258,"v":1137},{"s":"<Tc5_3m15>","t":14270,"v":1151},{"s":"<Tc5_3m15>","t":14286,"v":1069},{"s":"<Tc5_3m15>","t":14307,"v":1014},{"s":"<Tc5_3m15>","t":14310,"v":795},{"s":"<Tc5_3m15>","t":14313,"v":577},{"s":"<Tc5_3m15>","t":14319,"v":522},{"s":"<Tc5_3m15>","t":14328,"v":535},{"s":"<Tc5_3m15>","t":14333,"v":494},{"s":"<Tc5_3m15>","t":14750,"v":485},
      {"s":"<Tc5_3m45>","t":13800,"v":1270},{"s":"<Tc5_3m45>","t":13850,"v":1340},{"s":"<Tc5_3m45>","t":13900,"v":1400},{"s":"<Tc5_3m45>","t":13960,"v":1480},{"s":"<Tc5_3m45>","t":14000,"v":1620},{"s":"<Tc5_3m45>","t":14046,"v":1848},{"s":"<Tc5_3m45>","t":14064,"v":1930},{"s":"<Tc5_3m45>","t":14071,"v":1984},{"s":"<Tc5_3m45>","t":14083,"v":2080},{"s":"<Tc5_3m45>","t":14092,"v":2190},{"s":"<Tc5_3m45>","t":14099,"v":2190},{"s":"<Tc5_3m45>","t":14104,"v":2080},{"s":"<Tc5_3m45>","t":14110,"v":1916},{"s":"<Tc5_3m45>","t":14116,"v":1944},{"s":"<Tc5_3m45>","t":14137,"v":1834},{"s":"<Tc5_3m45>","t":14161,"v":1779},{"s":"<Tc5_3m45>","t":14177,"v":1725},{"s":"<Tc5_3m45>","t":14189,"v":1643},{"s":"<Tc5_3m45>","t":14204,"v":1588},{"s":"<Tc5_3m45>","t":14216,"v":1506},{"s":"<Tc5_3m45>","t":14228,"v":1410},{"s":"<Tc5_3m45>","t":14237,"v":1383},{"s":"<Tc5_3m45>","t":14246,"v":1356},{"s":"<Tc5_3m45>","t":14258,"v":1328},{"s":"<Tc5_3m45>","t":14277,"v":1301},{"s":"<Tc5_3m45>","t":14289,"v":1260},{"s":"<Tc5_3m45>","t":14298,"v":1205},{"s":"<Tc5_3m45>","t":14313,"v":1164},{"s":"<Tc5_3m45>","t":14331,"v":1110},{"s":"<Tc5_3m45>","t":14349,"v":1014},{"s":"<Tc5_3m45>","t":14358,"v":1000},{"s":"<Tc5_3m45>","t":14367,"v":1014},{"s":"<Tc5_3m45>","t":14380,"v":1028},{"s":"<Tc5_3m45>","t":14389,"v":959},{"s":"<Tc5_3m45>","t":14406,"v":954},{"s":"<Tc5_3m45>","t":14410,"v":554},{"s":"<Tc5_3m45>","t":14415,"v":840},{"s":"<Tc5_3m45>","t":14421,"v":815},{"s":"<Tc5_3m45>","t":14433,"v":815},{"s":"<Tc5_3m45>","t":14439,"v":718},{"s":"<Tc5_3m45>","t":14446,"v":734},{"s":"<Tc5_3m45>","t":14451,"v":628},{"s":"<Tc5_3m45>","t":14460,"v":505},{"s":"<Tc5_3m45>","t":14470,"v":485},{"s":"<Tc5_3m45>","t":14750,"v":482},
      {"s":"<Tc5_3m75>","t":13800,"v":1290},{"s":"<Tc5_3m75>","t":13850,"v":1360},{"s":"<Tc5_3m75>","t":13900,"v":1420},{"s":"<Tc5_3m75>","t":13940,"v":1460},{"s":"<Tc5_3m75>","t":14000,"v":1620},{"s":"<Tc5_3m75>","t":14046,"v":1834},{"s":"<Tc5_3m75>","t":14058,"v":1902},{"s":"<Tc5_3m75>","t":14067,"v":1957},{"s":"<Tc5_3m75>","t":14077,"v":1984},{"s":"<Tc5_3m75>","t":14086,"v":2080},{"s":"<Tc5_3m75>","t":14089,"v":2271},{"s":"<Tc5_3m75>","t":14092,"v":2053},{"s":"<Tc5_3m75>","t":14095,"v":1861},{"s":"<Tc5_3m75>","t":14102,"v":1766},{"s":"<Tc5_3m75>","t":14108,"v":1711},{"s":"<Tc5_3m75>","t":14116,"v":1766},{"s":"<Tc5_3m75>","t":14131,"v":1766},{"s":"<Tc5_3m75>","t":14152,"v":1752},{"s":"<Tc5_3m75>","t":14174,"v":1738},{"s":"<Tc5_3m75>","t":14186,"v":1697},{"s":"<Tc5_3m75>","t":14198,"v":1684},{"s":"<Tc5_3m75>","t":14216,"v":1615},{"s":"<Tc5_3m75>","t":14225,"v":1547},{"s":"<Tc5_3m75>","t":14234,"v":1492},{"s":"<Tc5_3m75>","t":14243,"v":1492},{"s":"<Tc5_3m75>","t":14258,"v":1465},{"s":"<Tc5_3m75>","t":14277,"v":1451},{"s":"<Tc5_3m75>","t":14289,"v":1410},{"s":"<Tc5_3m75>","t":14304,"v":1328},{"s":"<Tc5_3m75>","t":14319,"v":1287},{"s":"<Tc5_3m75>","t":14337,"v":1219},{"s":"<Tc5_3m75>","t":14357,"v":1170},{"s":"<Tc5_3m75>","t":14375,"v":1158},{"s":"<Tc5_3m75>","t":14387,"v":1118},{"s":"<Tc5_3m75>","t":14403,"v":1101},{"s":"<Tc5_3m75>","t":14410,"v":954},{"s":"<Tc5_3m75>","t":14418,"v":1036},{"s":"<Tc5_3m75>","t":14430,"v":1004},{"s":"<Tc5_3m75>","t":14449,"v":979},{"s":"<Tc5_3m75>","t":14464,"v":913},{"s":"<Tc5_3m75>","t":14479,"v":881},{"s":"<Tc5_3m75>","t":14494,"v":832},{"s":"<Tc5_3m75>","t":14510,"v":791},{"s":"<Tc5_3m75>","t":14522,"v":734},{"s":"<Tc5_3m75>","t":14534,"v":628},{"s":"<Tc5_3m75>","t":14543,"v":530},{"s":"<Tc5_3m75>","t":14551,"v":628},{"s":"<Tc5_3m75>","t":14558,"v":571},{"s":"<Tc5_3m75>","t":14567,"v":505},{"s":"<Tc5_3m75>","t":14575,"v":485},{"s":"<Tc5_3m75>","t":14750,"v":485}
    ],
    "cP": [
      {"s":"<Tc9_0m15>","t":13820,"v":452},{"s":"<Tc9_0m15>","t":13850,"v":452},{"s":"<Tc9_0m15>","t":13880,"v":452},{"s":"<Tc9_0m15>","t":13910,"v":452},{"s":"<Tc9_0m15>","t":13940,"v":452},{"s":"<Tc9_0m15>","t":13970,"v":452},{"s":"<Tc9_0m15>","t":14000,"v":452},{"s":"<Tc9_0m15>","t":14015,"v":452},{"s":"<Tc9_0m15>","t":14030,"v":452},{"s":"<Tc9_0m15>","t":14045,"v":452},{"s":"<Tc9_0m15>","t":14060,"v":452},{"s":"<Tc9_0m15>","t":14075,"v":452},{"s":"<Tc9_0m15>","t":14090,"v":452},{"s":"<Tc9_0m15>","t":14105,"v":454},{"s":"<Tc9_0m15>","t":14120,"v":454},{"s":"<Tc9_0m15>","t":14135,"v":454},{"s":"<Tc9_0m15>","t":14150,"v":454},{"s":"<Tc9_0m15>","t":14165,"v":454},{"s":"<Tc9_0m15>","t":14180,"v":454},{"s":"<Tc9_0m15>","t":14195,"v":454},{"s":"<Tc9_0m15>","t":14210,"v":454},{"s":"<Tc9_0m15>","t":14225,"v":454},{"s":"<Tc9_0m15>","t":14240,"v":454},{"s":"<Tc9_0m15>","t":14255,"v":454},{"s":"<Tc9_0m15>","t":14270,"v":454},{"s":"<Tc9_0m15>","t":14285,"v":454},{"s":"<Tc9_0m15>","t":14300,"v":454},{"s":"<Tc9_0m15>","t":14315,"v":454},{"s":"<Tc9_0m15>","t":14330,"v":454},{"s":"<Tc9_0m15>","t":14345,"v":454},{"s":"<Tc9_0m15>","t":14360,"v":454},{"s":"<Tc9_0m15>","t":14375,"v":454},{"s":"<Tc9_0m15>","t":14390,"v":454},{"s":"<Tc9_0m15>","t":14405,"v":454},{"s":"<Tc9_0m15>","t":14420,"v":454},{"s":"<Tc9_0m15>","t":14435,"v":454},{"s":"<Tc9_0m15>","t":14450,"v":454},{"s":"<Tc9_0m15>","t":14465,"v":454},{"s":"<Tc9_0m15>","t":14480,"v":454},{"s":"<Tc9_0m15>","t":14495,"v":454},{"s":"<Tc9_0m15>","t":14510,"v":454},{"s":"<Tc9_0m15>","t":14525,"v":454},{"s":"<Tc9_0m15>","t":14540,"v":454},{"s":"<Tc9_0m15>","t":14555,"v":454},{"s":"<Tc9_0m15>","t":14570,"v":454},{"s":"<Tc9_0m15>","t":14585,"v":454},{"s":"<Tc9_0m15>","t":14600,"v":454},{"s":"<Tc9_0m15>","t":14615,"v":454},{"s":"<Tc9_0m15>","t":14630,"v":454},{"s":"<Tc9_0m15>","t":14645,"v":454},{"s":"<Tc9_0m15>","t":14660,"v":454},{"s":"<Tc9_0m15>","t":14675,"v":454},{"s":"<Tc9_0m15>","t":14690,"v":454},{"s":"<Tc9_0m15>","t":14705,"v":454},{"s":"<Tc9_0m15>","t":14720,"v":454},{"s":"<Tc9_0m15>","t":14735,"v":454},{"s":"<Tc9_0m15>","t":14750,"v":454},
      {"s":"<Tc9_4m05>","t":13810,"v":973},{"s":"<Tc9_4m05>","t":13830,"v":973},{"s":"<Tc9_4m05>","t":13851,"v":973},{"s":"<Tc9_4m05>","t":13870,"v":1003},{"s":"<Tc9_4m05>","t":13890,"v":1003},{"s":"<Tc9_4m05>","t":13910,"v":1003},{"s":"<Tc9_4m05>","t":13929,"v":1003},{"s":"<Tc9_4m05>","t":13949,"v":1021},{"s":"<Tc9_4m05>","t":13970,"v":1029},{"s":"<Tc9_4m05>","t":13990,"v":1035},{"s":"<Tc9_4m05>","t":14004,"v":1048},{"s":"<Tc9_4m05>","t":14014,"v":1054},{"s":"<Tc9_4m05>","t":14024,"v":1062},{"s":"<Tc9_4m05>","t":14033,"v":1070},{"s":"<Tc9_4m05>","t":14044,"v":1075},{"s":"<Tc9_4m05>","t":14054,"v":1090},{"s":"<Tc9_4m05>","t":14065,"v":1105},{"s":"<Tc9_4m05>","t":14075,"v":1120},{"s":"<Tc9_4m05>","t":14086,"v":1125},{"s":"<Tc9_4m05>","t":14097,"v":1103},{"s":"<Tc9_4m05>","t":14105,"v":1090},{"s":"<Tc9_4m05>","t":14115,"v":1109},{"s":"<Tc9_4m05>","t":14125,"v":1130},{"s":"<Tc9_4m05>","t":14135,"v":1143},{"s":"<Tc9_4m05>","t":14146,"v":1162},{"s":"<Tc9_4m05>","t":14156,"v":1170},{"s":"<Tc9_4m05>","t":14166,"v":1184},{"s":"<Tc9_4m05>","t":14176,"v":1210},{"s":"<Tc9_4m05>","t":14184,"v":1224},{"s":"<Tc9_4m05>","t":14195,"v":1237},{"s":"<Tc9_4m05>","t":14205,"v":1264},{"s":"<Tc9_4m05>","t":14215,"v":1277},{"s":"<Tc9_4m05>","t":14225,"v":1304},{"s":"<Tc9_4m05>","t":14235,"v":1318},{"s":"<Tc9_4m05>","t":14245,"v":1331},{"s":"<Tc9_4m05>","t":14255,"v":1358},{"s":"<Tc9_4m05>","t":14266,"v":1358},{"s":"<Tc9_4m05>","t":14276,"v":1385},{"s":"<Tc9_4m05>","t":14286,"v":1371},{"s":"<Tc9_4m05>","t":14296,"v":1350},{"s":"<Tc9_4m05>","t":14306,"v":1331},{"s":"<Tc9_4m05>","t":14316,"v":1318},{"s":"<Tc9_4m05>","t":14326,"v":1304},{"s":"<Tc9_4m05>","t":14336,"v":1291},{"s":"<Tc9_4m05>","t":14347,"v":1277},{"s":"<Tc9_4m05>","t":14357,"v":1264},{"s":"<Tc9_4m05>","t":14367,"v":1259},{"s":"<Tc9_4m05>","t":14377,"v":1243},{"s":"<Tc9_4m05>","t":14387,"v":1232},{"s":"<Tc9_4m05>","t":14397,"v":1216},{"s":"<Tc9_4m05>","t":14407,"v":1205},{"s":"<Tc9_4m05>","t":14418,"v":1184},{"s":"<Tc9_4m05>","t":14428,"v":1170},{"s":"<Tc9_4m05>","t":14438,"v":1143},{"s":"<Tc9_4m05>","t":14448,"v":1130},{"s":"<Tc9_4m05>","t":14458,"v":1117},{"s":"<Tc9_4m05>","t":14467,"v":1103},{"s":"<Tc9_4m05>","t":14475,"v":1090},{"s":"<Tc9_4m05>","t":14485,"v":1076},{"s":"<Tc9_4m05>","t":14495,"v":1050},{"s":"<Tc9_4m05>","t":14506,"v":1036},{"s":"<Tc9_4m05>","t":14516,"v":1023},{"s":"<Tc9_4m05>","t":14524,"v":996},{"s":"<Tc9_4m05>","t":14534,"v":983},{"s":"<Tc9_4m05>","t":14544,"v":975},{"s":"<Tc9_4m05>","t":14554,"v":942},{"s":"<Tc9_4m05>","t":14563,"v":916},{"s":"<Tc9_4m05>","t":14573,"v":902},{"s":"<Tc9_4m05>","t":14583,"v":890},{"s":"<Tc9_4m05>","t":14593,"v":875},{"s":"<Tc9_4m05>","t":14603,"v":860},{"s":"<Tc9_4m05>","t":14613,"v":845},{"s":"<Tc9_4m05>","t":14623,"v":825},{"s":"<Tc9_4m05>","t":14633,"v":800},{"s":"<Tc9_4m05>","t":14643,"v":770},{"s":"<Tc9_4m05>","t":14650,"v":730},{"s":"<Tc9_4m05>","t":14656,"v":680},{"s":"<Tc9_4m05>","t":14665,"v":610},{"s":"<Tc9_4m05>","t":14675,"v":495},{"s":"<Tc9_4m05>","t":14685,"v":495},{"s":"<Tc9_4m05>","t":14695,"v":495},{"s":"<Tc9_4m05>","t":14705,"v":495},{"s":"<Tc9_4m05>","t":14716,"v":495},{"s":"<Tc9_4m05>","t":14727,"v":495},{"s":"<Tc9_4m05>","t":14737,"v":495},{"s":"<Tc9_4m05>","t":14747,"v":495}
    ],
    "cL": [
      {"s":"<Tc9_1m05>","t":13800,"v":555},{"s":"<Tc9_1m05>","t":13850,"v":580},{"s":"<Tc9_1m05>","t":13900,"v":622},{"s":"<Tc9_1m05>","t":13950,"v":660},{"s":"<Tc9_1m05>","t":14000,"v":690},{"s":"<Tc9_1m05>","t":14050,"v":722},{"s":"<Tc9_1m05>","t":14080,"v":728},{"s":"<Tc9_1m05>","t":14084,"v":715},{"s":"<Tc9_1m05>","t":14090,"v":480},{"s":"<Tc9_1m05>","t":14750,"v":478},
      {"s":"<Tc9_1m65>","t":13800,"v":800},{"s":"<Tc9_1m65>","t":13900,"v":825},{"s":"<Tc9_1m65>","t":14000,"v":845},{"s":"<Tc9_1m65>","t":14050,"v":858},{"s":"<Tc9_1m65>","t":14083,"v":857},{"s":"<Tc9_1m65>","t":14092,"v":490},{"s":"<Tc9_1m65>","t":14100,"v":485},{"s":"<Tc9_1m65>","t":14750,"v":482},
      {"s":"<Tc9_2m25>","t":13800,"v":910},{"s":"<Tc9_2m25>","t":13900,"v":935},{"s":"<Tc9_2m25>","t":14000,"v":960},{"s":"<Tc9_2m25>","t":14050,"v":972},{"s":"<Tc9_2m25>","t":14085,"v":975},{"s":"<Tc9_2m25>","t":14092,"v":900},{"s":"<Tc9_2m25>","t":14100,"v":490},{"s":"<Tc9_2m25>","t":14750,"v":485},
      {"s":"<Tc9_2m55>","t":13800,"v":955},{"s":"<Tc9_2m55>","t":13900,"v":980},{"s":"<Tc9_2m55>","t":14000,"v":1020},{"s":"<Tc9_2m55>","t":14050,"v":1032},{"s":"<Tc9_2m55>","t":14085,"v":1036},{"s":"<Tc9_2m55>","t":14093,"v":1000},{"s":"<Tc9_2m55>","t":14100,"v":510},{"s":"<Tc9_2m55>","t":14110,"v":490},{"s":"<Tc9_2m55>","t":14750,"v":487},
      {"s":"<Tc9_2m85>","t":13800,"v":995},{"s":"<Tc9_2m85>","t":13850,"v":1003},{"s":"<Tc9_2m85>","t":13900,"v":1018},{"s":"<Tc9_2m85>","t":13950,"v":1035},{"s":"<Tc9_2m85>","t":14000,"v":1060},{"s":"<Tc9_2m85>","t":14050,"v":1078},{"s":"<Tc9_2m85>","t":14083,"v":1082},{"s":"<Tc9_2m85>","t":14093,"v":1023},{"s":"<Tc9_2m85>","t":14105,"v":916},{"s":"<Tc9_2m85>","t":14119,"v":996},{"s":"<Tc9_2m85>","t":14127,"v":1050},{"s":"<Tc9_2m85>","t":14141,"v":1090},{"s":"<Tc9_2m85>","t":14157,"v":1130},{"s":"<Tc9_2m85>","t":14168,"v":1170},{"s":"<Tc9_2m85>","t":14181,"v":1109},{"s":"<Tc9_2m85>","t":14191,"v":996},{"s":"<Tc9_2m85>","t":14196,"v":808},{"s":"<Tc9_2m85>","t":14200,"v":620},{"s":"<Tc9_2m85>","t":14205,"v":513},{"s":"<Tc9_2m85>","t":14211,"v":487},{"s":"<Tc9_2m85>","t":14750,"v":482},
      {"s":"<Tc9_3m15>","t":13800,"v":1035},{"s":"<Tc9_3m15>","t":13850,"v":1050},{"s":"<Tc9_3m15>","t":13900,"v":1068},{"s":"<Tc9_3m15>","t":13950,"v":1082},{"s":"<Tc9_3m15>","t":14000,"v":1105},{"s":"<Tc9_3m15>","t":14050,"v":1125},{"s":"<Tc9_3m15>","t":14085,"v":1128},{"s":"<Tc9_3m15>","t":14090,"v":1090},{"s":"<Tc9_3m15>","t":14100,"v":1063},{"s":"<Tc9_3m15>","t":14114,"v":1090},{"s":"<Tc9_3m15>","t":14134,"v":1109},{"s":"<Tc9_3m15>","t":14154,"v":1117},{"s":"<Tc9_3m15>","t":14171,"v":1143},{"s":"<Tc9_3m15>","t":14184,"v":1117},{"s":"<Tc9_3m15>","t":14195,"v":1076},{"s":"<Tc9_3m15>","t":14205,"v":1036},{"s":"<Tc9_3m15>","t":14222,"v":1023},{"s":"<Tc9_3m15>","t":14249,"v":1023},{"s":"<Tc9_3m15>","t":14269,"v":1028},{"s":"<Tc9_3m15>","t":14282,"v":996},{"s":"<Tc9_3m15>","t":14293,"v":902},{"s":"<Tc9_3m15>","t":14303,"v":728},{"s":"<Tc9_3m15>","t":14308,"v":513},{"s":"<Tc9_3m15>","t":14316,"v":567},{"s":"<Tc9_3m15>","t":14326,"v":513},{"s":"<Tc9_3m15>","t":14336,"v":500},{"s":"<Tc9_3m15>","t":14350,"v":488},{"s":"<Tc9_3m15>","t":14750,"v":485},
      {"s":"<Tc9_3m45>","t":13800,"v":1030},{"s":"<Tc9_3m45>","t":13900,"v":1085},{"s":"<Tc9_3m45>","t":14000,"v":1140},{"s":"<Tc9_3m45>","t":14050,"v":1195},{"s":"<Tc9_3m45>","t":14080,"v":1300},{"s":"<Tc9_3m45>","t":14090,"v":1250},{"s":"<Tc9_3m45>","t":14097,"v":1184},{"s":"<Tc9_3m45>","t":14105,"v":1190},{"s":"<Tc9_3m45>","t":14130,"v":1250},{"s":"<Tc9_3m45>","t":14160,"v":1280},{"s":"<Tc9_3m45>","t":14191,"v":1290},{"s":"<Tc9_3m45>","t":14215,"v":1290},{"s":"<Tc9_3m45>","t":14222,"v":1210},{"s":"<Tc9_3m45>","t":14249,"v":1210},{"s":"<Tc9_3m45>","t":14276,"v":1197},{"s":"<Tc9_3m45>","t":14279,"v":1184},{"s":"<Tc9_3m45>","t":14289,"v":1143},{"s":"<Tc9_3m45>","t":14309,"v":1076},{"s":"<Tc9_3m45>","t":14323,"v":1063},{"s":"<Tc9_3m45>","t":14343,"v":1036},{"s":"<Tc9_3m45>","t":14357,"v":996},{"s":"<Tc9_3m45>","t":14374,"v":975},{"s":"<Tc9_3m45>","t":14387,"v":956},{"s":"<Tc9_3m45>","t":14397,"v":889},{"s":"<Tc9_3m45>","t":14404,"v":875},{"s":"<Tc9_3m45>","t":14418,"v":728},{"s":"<Tc9_3m45>","t":14428,"v":647},{"s":"<Tc9_3m45>","t":14438,"v":594},{"s":"<Tc9_3m45>","t":14441,"v":513},{"s":"<Tc9_3m45>","t":14450,"v":488},{"s":"<Tc9_3m45>","t":14750,"v":485},
      {"s":"<Tc9_3m75>","t":13800,"v":1048},{"s":"<Tc9_3m75>","t":13850,"v":1075},{"s":"<Tc9_3m75>","t":13900,"v":1098},{"s":"<Tc9_3m75>","t":13950,"v":1122},{"s":"<Tc9_3m75>","t":14000,"v":1150},{"s":"<Tc9_3m75>","t":14030,"v":1168},{"s":"<Tc9_3m75>","t":14046,"v":1200},{"s":"<Tc9_3m75>","t":14066,"v":1262},{"s":"<Tc9_3m75>","t":14083,"v":1325},{"s":"<Tc9_3m75>","t":14090,"v":1304},{"s":"<Tc9_3m75>","t":14097,"v":1210},{"s":"<Tc9_3m75>","t":14103,"v":1184},{"s":"<Tc9_3m75>","t":14114,"v":1224},{"s":"<Tc9_3m75>","t":14134,"v":1264},{"s":"<Tc9_3m75>","t":14154,"v":1291},{"s":"<Tc9_3m75>","t":14174,"v":1318},{"s":"<Tc9_3m75>","t":14188,"v":1318},{"s":"<Tc9_3m75>","t":14205,"v":1277},{"s":"<Tc9_3m75>","t":14225,"v":1277},{"s":"<Tc9_3m75>","t":14249,"v":1291},{"s":"<Tc9_3m75>","t":14276,"v":1269},{"s":"<Tc9_3m75>","t":14296,"v":1224},{"s":"<Tc9_3m75>","t":14316,"v":1184},{"s":"<Tc9_3m75>","t":14350,"v":1130},{"s":"<Tc9_3m75>","t":14377,"v":1117},{"s":"<Tc9_3m75>","t":14401,"v":1076},{"s":"<Tc9_3m75>","t":14418,"v":1023},{"s":"<Tc9_3m75>","t":14445,"v":969},{"s":"<Tc9_3m75>","t":14468,"v":942},{"s":"<Tc9_3m75>","t":14485,"v":916},{"s":"<Tc9_3m75>","t":14496,"v":782},{"s":"<Tc9_3m75>","t":14500,"v":768},{"s":"<Tc9_3m75>","t":14515,"v":755},{"s":"<Tc9_3m75>","t":14525,"v":714},{"s":"<Tc9_3m75>","t":14539,"v":674},{"s":"<Tc9_3m75>","t":14553,"v":661},{"s":"<Tc9_3m75>","t":14563,"v":607},{"s":"<Tc9_3m75>","t":14568,"v":580},{"s":"<Tc9_3m75>","t":14572,"v":490},{"s":"<Tc9_3m75>","t":14750,"v":487}
    ],
    "dP": [
      {"s":"<Tc9_0m15>","t":13830,"v":700},{"s":"<Tc9_0m15>","t":13870,"v":716},{"s":"<Tc9_0m15>","t":13910,"v":731},{"s":"<Tc9_0m15>","t":13950,"v":754},{"s":"<Tc9_0m15>","t":13990,"v":782},{"s":"<Tc9_0m15>","t":14015,"v":809},{"s":"<Tc9_0m15>","t":14035,"v":833},{"s":"<Tc9_0m15>","t":14055,"v":852},{"s":"<Tc9_0m15>","t":14075,"v":875},{"s":"<Tc9_0m15>","t":14095,"v":902},{"s":"<Tc9_0m15>","t":14115,"v":941},{"s":"<Tc9_0m15>","t":14135,"v":953},{"s":"<Tc9_0m15>","t":14155,"v":972},{"s":"<Tc9_0m15>","t":14175,"v":988},{"s":"<Tc9_0m15>","t":14195,"v":1008},{"s":"<Tc9_0m15>","t":14215,"v":1019},{"s":"<Tc9_0m15>","t":14235,"v":1035},{"s":"<Tc9_0m15>","t":14255,"v":1046},{"s":"<Tc9_0m15>","t":14275,"v":1055},{"s":"<Tc9_0m15>","t":14295,"v":1066},{"s":"<Tc9_0m15>","t":14315,"v":1074},{"s":"<Tc9_0m15>","t":14335,"v":1082},{"s":"<Tc9_0m15>","t":14355,"v":1086},{"s":"<Tc9_0m15>","t":14375,"v":1089},{"s":"<Tc9_0m15>","t":14395,"v":1091},{"s":"<Tc9_0m15>","t":14415,"v":1093},{"s":"<Tc9_0m15>","t":14435,"v":1094},{"s":"<Tc9_0m15>","t":14455,"v":1095},{"s":"<Tc9_0m15>","t":14475,"v":1095},{"s":"<Tc9_0m15>","t":14495,"v":1095},{"s":"<Tc9_0m15>","t":14515,"v":1095},{"s":"<Tc9_0m15>","t":14535,"v":1095},{"s":"<Tc9_0m15>","t":14555,"v":1094},{"s":"<Tc9_0m15>","t":14575,"v":1095},{"s":"<Tc9_0m15>","t":14595,"v":1094},{"s":"<Tc9_0m15>","t":14615,"v":1086},{"s":"<Tc9_0m15>","t":14635,"v":1086},{"s":"<Tc9_0m15>","t":14655,"v":1079},{"s":"<Tc9_0m15>","t":14675,"v":1070},{"s":"<Tc9_0m15>","t":14695,"v":1059},{"s":"<Tc9_0m15>","t":14715,"v":1044},{"s":"<Tc9_0m15>","t":14735,"v":1017}
    ],
    "dL": [
      {"s":"<UpCs_002>","t":13800,"v":684},{"s":"<UpCs_002>","t":13850,"v":705},{"s":"<UpCs_002>","t":13900,"v":728},{"s":"<UpCs_002>","t":13950,"v":755},{"s":"<UpCs_002>","t":14000,"v":790},{"s":"<UpCs_002>","t":14050,"v":835},{"s":"<UpCs_002>","t":14080,"v":872},{"s":"<UpCs_002>","t":14090,"v":892},{"s":"<UpCs_002>","t":14100,"v":918},{"s":"<UpCs_002>","t":14120,"v":935},{"s":"<UpCs_002>","t":14150,"v":950},{"s":"<UpCs_002>","t":14200,"v":980},{"s":"<UpCs_002>","t":14250,"v":1008},{"s":"<UpCs_002>","t":14300,"v":1030},{"s":"<UpCs_002>","t":14350,"v":1045},{"s":"<UpCs_002>","t":14400,"v":1055},{"s":"<UpCs_002>","t":14450,"v":1060},{"s":"<UpCs_002>","t":14500,"v":1065},{"s":"<UpCs_002>","t":14550,"v":1066},{"s":"<UpCs_002>","t":14600,"v":1063},{"s":"<UpCs_002>","t":14650,"v":1050},{"s":"<UpCs_002>","t":14700,"v":1025},{"s":"<UpCs_002>","t":14735,"v":998},{"s":"<UpCs_002>","t":14750,"v":978},
      {"s":"<UpCs_003>","t":13800,"v":670},{"s":"<UpCs_003>","t":13850,"v":683},{"s":"<UpCs_003>","t":13900,"v":698},{"s":"<UpCs_003>","t":13950,"v":718},{"s":"<UpCs_003>","t":14000,"v":748},{"s":"<UpCs_003>","t":14050,"v":788},{"s":"<UpCs_003>","t":14080,"v":818},{"s":"<UpCs_003>","t":14090,"v":830},{"s":"<UpCs_003>","t":14100,"v":858},{"s":"<UpCs_003>","t":14150,"v":898},{"s":"<UpCs_003>","t":14200,"v":933},{"s":"<UpCs_003>","t":14250,"v":960},{"s":"<UpCs_003>","t":14300,"v":980},{"s":"<UpCs_003>","t":14350,"v":994},{"s":"<UpCs_003>","t":14400,"v":1002},{"s":"<UpCs_003>","t":14450,"v":1004},{"s":"<UpCs_003>","t":14500,"v":1004},{"s":"<UpCs_003>","t":14550,"v":1000},{"s":"<UpCs_003>","t":14600,"v":993},{"s":"<UpCs_003>","t":14650,"v":978},{"s":"<UpCs_003>","t":14700,"v":955},{"s":"<UpCs_003>","t":14725,"v":943},{"s":"<UpCs_003>","t":14750,"v":913},
      {"s":"<UpCs_004>","t":13800,"v":662},{"s":"<UpCs_004>","t":13850,"v":672},{"s":"<UpCs_004>","t":13900,"v":683},{"s":"<UpCs_004>","t":13950,"v":700},{"s":"<UpCs_004>","t":14000,"v":718},{"s":"<UpCs_004>","t":14050,"v":742},{"s":"<UpCs_004>","t":14090,"v":765},{"s":"<UpCs_004>","t":14100,"v":783},{"s":"<UpCs_004>","t":14150,"v":806},{"s":"<UpCs_004>","t":14200,"v":830},{"s":"<UpCs_004>","t":14250,"v":853},{"s":"<UpCs_004>","t":14300,"v":873},{"s":"<UpCs_004>","t":14350,"v":888},{"s":"<UpCs_004>","t":14400,"v":897},{"s":"<UpCs_004>","t":14450,"v":901},{"s":"<UpCs_004>","t":14500,"v":902},{"s":"<UpCs_004>","t":14550,"v":900},{"s":"<UpCs_004>","t":14600,"v":893},{"s":"<UpCs_004>","t":14650,"v":884},{"s":"<UpCs_004>","t":14700,"v":866},{"s":"<UpCs_004>","t":14720,"v":850},{"s":"<UpCs_004>","t":14730,"v":812},{"s":"<UpCs_004>","t":14750,"v":773},
      {"s":"<UpCs_005>","t":13800,"v":635},{"s":"<UpCs_005>","t":13850,"v":642},{"s":"<UpCs_005>","t":13900,"v":650},{"s":"<UpCs_005>","t":13950,"v":660},{"s":"<UpCs_005>","t":14000,"v":672},{"s":"<UpCs_005>","t":14050,"v":690},{"s":"<UpCs_005>","t":14090,"v":705},{"s":"<UpCs_005>","t":14100,"v":712},{"s":"<UpCs_005>","t":14150,"v":730},{"s":"<UpCs_005>","t":14200,"v":748},{"s":"<UpCs_005>","t":14250,"v":765},{"s":"<UpCs_005>","t":14300,"v":785},{"s":"<UpCs_005>","t":14350,"v":800},{"s":"<UpCs_005>","t":14400,"v":814},{"s":"<UpCs_005>","t":14450,"v":822},{"s":"<UpCs_005>","t":14500,"v":826},{"s":"<UpCs_005>","t":14550,"v":824},{"s":"<UpCs_005>","t":14600,"v":818},{"s":"<UpCs_005>","t":14650,"v":807},{"s":"<UpCs_005>","t":14700,"v":798},{"s":"<UpCs_005>","t":14716,"v":792},{"s":"<UpCs_005>","t":14730,"v":760},{"s":"<UpCs_005>","t":14740,"v":690},{"s":"<UpCs_005>","t":14747,"v":690}
    ],
    "eP": [
      {"s":"<U_Col1_b>","t":13830,"v":596},{"s":"<U_Col1_b>","t":13870,"v":600},{"s":"<U_Col1_b>","t":13910,"v":606},{"s":"<U_Col1_b>","t":13950,"v":611},{"s":"<U_Col1_b>","t":13990,"v":619},{"s":"<U_Col1_b>","t":14015,"v":625},{"s":"<U_Col1_b>","t":14035,"v":628},{"s":"<U_Col1_b>","t":14055,"v":631},{"s":"<U_Col1_b>","t":14075,"v":633},{"s":"<U_Col1_b>","t":14095,"v":650},{"s":"<U_Col1_b>","t":14115,"v":674},{"s":"<U_Col1_b>","t":14135,"v":693},{"s":"<U_Col1_b>","t":14155,"v":705},{"s":"<U_Col1_b>","t":14175,"v":716},{"s":"<U_Col1_b>","t":14195,"v":736},{"s":"<U_Col1_b>","t":14215,"v":744},{"s":"<U_Col1_b>","t":14235,"v":755},{"s":"<U_Col1_b>","t":14255,"v":763},{"s":"<U_Col1_b>","t":14275,"v":775},{"s":"<U_Col1_b>","t":14295,"v":783},{"s":"<U_Col1_b>","t":14315,"v":791},{"s":"<U_Col1_b>","t":14335,"v":798},{"s":"<U_Col1_b>","t":14355,"v":803},{"s":"<U_Col1_b>","t":14375,"v":808},{"s":"<U_Col1_b>","t":14395,"v":812},{"s":"<U_Col1_b>","t":14415,"v":815},{"s":"<U_Col1_b>","t":14435,"v":817},{"s":"<U_Col1_b>","t":14455,"v":818},{"s":"<U_Col1_b>","t":14475,"v":819},{"s":"<U_Col1_b>","t":14495,"v":820},{"s":"<U_Col1_b>","t":14515,"v":820},{"s":"<U_Col1_b>","t":14535,"v":821},{"s":"<U_Col1_b>","t":14555,"v":821},{"s":"<U_Col1_b>","t":14575,"v":821},{"s":"<U_Col1_b>","t":14595,"v":820},{"s":"<U_Col1_b>","t":14615,"v":820},{"s":"<U_Col1_b>","t":14635,"v":819},{"s":"<U_Col1_b>","t":14655,"v":818},{"s":"<U_Col1_b>","t":14675,"v":817},{"s":"<U_Col1_b>","t":14695,"v":815},{"s":"<U_Col1_b>","t":14715,"v":813},{"s":"<U_Col1_b>","t":14735,"v":810}
    ],
    "eL": [
      {"s":"<U_Col1_t>","t":13800,"v":572},{"s":"<U_Col1_t>","t":13900,"v":580},{"s":"<U_Col1_t>","t":14000,"v":595},{"s":"<U_Col1_t>","t":14050,"v":602},{"s":"<U_Col1_t>","t":14090,"v":612},{"s":"<U_Col1_t>","t":14100,"v":622},{"s":"<U_Col1_t>","t":14150,"v":650},{"s":"<U_Col1_t>","t":14200,"v":675},{"s":"<U_Col1_t>","t":14250,"v":700},{"s":"<U_Col1_t>","t":14300,"v":720},{"s":"<U_Col1_t>","t":14350,"v":735},{"s":"<U_Col1_t>","t":14400,"v":748},{"s":"<U_Col1_t>","t":14450,"v":755},{"s":"<U_Col1_t>","t":14500,"v":760},{"s":"<U_Col1_t>","t":14550,"v":762},{"s":"<U_Col1_t>","t":14600,"v":762},{"s":"<U_Col1_t>","t":14650,"v":760},{"s":"<U_Col1_t>","t":14700,"v":757},{"s":"<U_Col1_t>","t":14750,"v":752},
      {"s":"<U_Col2_b>","t":13800,"v":577},{"s":"<U_Col2_b>","t":13900,"v":587},{"s":"<U_Col2_b>","t":14000,"v":602},{"s":"<U_Col2_b>","t":14050,"v":610},{"s":"<U_Col2_b>","t":14090,"v":620},{"s":"<U_Col2_b>","t":14100,"v":632},{"s":"<U_Col2_b>","t":14150,"v":662},{"s":"<U_Col2_b>","t":14200,"v":690},{"s":"<U_Col2_b>","t":14250,"v":715},{"s":"<U_Col2_b>","t":14300,"v":735},{"s":"<U_Col2_b>","t":14350,"v":752},{"s":"<U_Col2_b>","t":14400,"v":763},{"s":"<U_Col2_b>","t":14450,"v":770},{"s":"<U_Col2_b>","t":14500,"v":773},{"s":"<U_Col2_b>","t":14550,"v":774},{"s":"<U_Col2_b>","t":14600,"v":773},{"s":"<U_Col2_b>","t":14650,"v":771},{"s":"<U_Col2_b>","t":14700,"v":767},{"s":"<U_Col2_b>","t":14750,"v":760},
      {"s":"<U_Col2_t>","t":13800,"v":568},{"s":"<U_Col2_t>","t":13900,"v":576},{"s":"<U_Col2_t>","t":14000,"v":588},{"s":"<U_Col2_t>","t":14050,"v":595},{"s":"<U_Col2_t>","t":14090,"v":604},{"s":"<U_Col2_t>","t":14100,"v":612},{"s":"<U_Col2_t>","t":14150,"v":638},{"s":"<U_Col2_t>","t":14200,"v":663},{"s":"<U_Col2_t>","t":14250,"v":688},{"s":"<U_Col2_t>","t":14300,"v":708},{"s":"<U_Col2_t>","t":14350,"v":724},{"s":"<U_Col2_t>","t":14400,"v":737},{"s":"<U_Col2_t>","t":14450,"v":744},{"s":"<U_Col2_t>","t":14500,"v":748},{"s":"<U_Col2_t>","t":14550,"v":750},{"s":"<U_Col2_t>","t":14600,"v":750},{"s":"<U_Col2_t>","t":14650,"v":748},{"s":"<U_Col2_t>","t":14700,"v":745},{"s":"<U_Col2_t>","t":14750,"v":740},
      {"s":"<U_Col2_b> ","t":13800,"v":574},{"s":"<U_Col2_b> ","t":13900,"v":583},{"s":"<U_Col2_b> ","t":14000,"v":598},{"s":"<U_Col2_b> ","t":14050,"v":606},{"s":"<U_Col2_b> ","t":14090,"v":616},{"s":"<U_Col2_b> ","t":14100,"v":626},{"s":"<U_Col2_b> ","t":14150,"v":655},{"s":"<U_Col2_b> ","t":14200,"v":682},{"s":"<U_Col2_b> ","t":14250,"v":707},{"s":"<U_Col2_b> ","t":14300,"v":727},{"s":"<U_Col2_b> ","t":14350,"v":743},{"s":"<U_Col2_b> ","t":14400,"v":755},{"s":"<U_Col2_b> ","t":14450,"v":762},{"s":"<U_Col2_b> ","t":14500,"v":766},{"s":"<U_Col2_b> ","t":14550,"v":768},{"s":"<U_Col2_b> ","t":14600,"v":767},{"s":"<U_Col2_b> ","t":14650,"v":765},{"s":"<U_Col2_b> ","t":14700,"v":762},{"s":"<U_Col2_b> ","t":14750,"v":756},
      {"s":"<U_Col3_t>","t":13800,"v":555},{"s":"<U_Col3_t>","t":13900,"v":565},{"s":"<U_Col3_t>","t":14000,"v":575},{"s":"<U_Col3_t>","t":14050,"v":582},{"s":"<U_Col3_t>","t":14090,"v":590},{"s":"<U_Col3_t>","t":14100,"v":597},{"s":"<U_Col3_t>","t":14150,"v":615},{"s":"<U_Col3_t>","t":14200,"v":635},{"s":"<U_Col3_t>","t":14250,"v":652},{"s":"<U_Col3_t>","t":14300,"v":665},{"s":"<U_Col3_t>","t":14350,"v":675},{"s":"<U_Col3_t>","t":14400,"v":683},{"s":"<U_Col3_t>","t":14450,"v":688},{"s":"<U_Col3_t>","t":14500,"v":690},{"s":"<U_Col3_t>","t":14550,"v":692},{"s":"<U_Col3_t>","t":14600,"v":692},{"s":"<U_Col3_t>","t":14650,"v":692},{"s":"<U_Col3_t>","t":14700,"v":690},{"s":"<U_Col3_t>","t":14750,"v":688}
    ]
  },
  "vconcat": [
    {
      "width": 1040, "height": 300,
      "encoding": {
        "x": {"field": "t", "type": "quantitative", "scale": {"domain": [13800, 14750], "nice": false, "zero": false},
              "axis": {"values": [13800,13850,13900,13950,14000,14050,14100,14150,14200,14250,14300,14350,14400,14450,14500,14550,14600,14650,14700,14750], "labels": false, "title": null}},
        "y": {"field": "v", "type": "quantitative", "scale": {"domain": [350, 2800], "nice": false, "zero": false},
              "axis": {"orient": "left", "values": [500,750,1000,1250,1500,1750,2000,2250,2500,2750], "labelExpr": "datum.value % 500 === 0 ? datum.label : ''", "format": "d", "labelFontSize": 24, "labelPadding": 14, "title": "Temperature (K)", "titleFontSize": 23, "titleFontWeight": "bold", "titlePadding": 8}}
      },
      "layer": [
        {"data": {"name": "aL"}, "mark": {"type": "line", "clip": true},
         "encoding": {
           "color": {"field": "s", "type": "nominal", "scale": {"domain": ["<Tc1_0m15>","<Tc1_1m05>","<Tc1_1m65>","<Tc1_2m25>","<Tc1_2m55>","<Tc1_2m85>","<Tc1_3m15>","<Tc1_3m45>","<Tc1_3m75>","<Tc1_4m05>"], "range": ["black","#ff0000","#22ee22","#1a1aff","#bc8f8f","#9400d3","#ff40e0","#9400d3","#ff8c00","black"]}, "legend": {"title": null, "legendX": 5, "legendY": 10}},
           "strokeDash": {"field": "s", "type": "nominal", "scale": {"domain": ["<Tc1_0m15>","<Tc1_1m05>","<Tc1_1m65>","<Tc1_2m25>","<Tc1_2m55>","<Tc1_2m85>","<Tc1_3m15>","<Tc1_3m45>","<Tc1_3m75>","<Tc1_4m05>"], "range": [[1,0],[1,0],[1,0],[14,5],[1,0],[22,7,6,7],[3,3],[30,5],[18,8],[1,0]]}, "legend": {"title": null}},
           "strokeWidth": {"field": "s", "type": "nominal", "scale": {"type": "ordinal", "domain": ["<Tc1_0m15>","<Tc1_1m05>","<Tc1_1m65>","<Tc1_2m25>","<Tc1_2m55>","<Tc1_2m85>","<Tc1_3m15>","<Tc1_3m45>","<Tc1_3m75>","<Tc1_4m05>"], "range": [1,1,1,1.2,1,4.5,1.2,1,4.5,1]}, "legend": {"title": null}}
         }},
        {"data": {"name": "aP"}, "mark": {"type": "point", "filled": false, "size": 86, "strokeWidth": 1.1},
         "encoding": {
           "color": {"field": "s", "type": "nominal", "scale": {"domain": ["<Tc1_0m15>","<Tc1_1m05>","<Tc1_1m65>","<Tc1_2m25>","<Tc1_2m55>","<Tc1_2m85>","<Tc1_3m15>","<Tc1_3m45>","<Tc1_3m75>","<Tc1_4m05>"], "range": ["black","#ff0000","#22ee22","#1a1aff","#bc8f8f","#9400d3","#ff40e0","#9400d3","#ff8c00","black"]}, "legend": {"title": null, "legendX": 5, "legendY": 10}},
           "shape": {"field": "s", "type": "nominal", "scale": {"domain": ["<Tc1_0m15>","<Tc1_1m05>","<Tc1_1m65>","<Tc1_2m25>","<Tc1_2m55>","<Tc1_2m85>","<Tc1_3m15>","<Tc1_3m45>","<Tc1_3m75>","<Tc1_4m05>"], "range": ["M1,0A1,1,0,1,1,-1,0A1,1,0,1,1,1,0Z","M-6.6,0L0.2,0","M-6.6,0L0.2,0","M-6.6,0L0.2,0","M-6.6,0L0.2,0","M-6.6,0L0.2,0","M-6.6,0L0.2,0","M-6.6,0L0.2,0","M-6.6,0L0.2,0","M-1.2,0L1.2,0M0,-1.2L0,1.2"]}, "legend": {"title": null}}
         }},
        {"data": {"values": [{}]}, "mark": {"type": "text", "fontSize": 21, "font": "Liberation Sans", "color": "black"},
         "encoding": {"x": {"datum": 14703}, "y": {"datum": 2555}, "text": {"value": "(a)"}}}
      ]
    },
    {
      "width": 1040, "height": 300,
      "encoding": {
        "x": {"field": "t", "type": "quantitative", "scale": {"domain": [13800, 14750], "nice": false, "zero": false},
              "axis": {"values": [13800,13850,13900,13950,14000,14050,14100,14150,14200,14250,14300,14350,14400,14450,14500,14550,14600,14650,14700,14750], "labels": false, "title": null}},
        "y": {"field": "v", "type": "quantitative", "scale": {"domain": [350, 2800], "nice": false, "zero": false},
              "axis": {"orient": "left", "values": [500,750,1000,1250,1500,1750,2000,2250,2500,2750], "labelExpr": "datum.value % 500 === 0 ? datum.label : ''", "format": "d", "labelFontSize": 24, "labelPadding": 14, "title": "Temperature (K)", "titleFontSize": 23, "titleFontWeight": "bold", "titlePadding": 8}}
      },
      "layer": [
        {"data": {"name": "bL"}, "mark": {"type": "line", "clip": true},
         "encoding": {
           "color": {"field": "s", "type": "nominal", "scale": {"domain": ["<Tc5_0m15>","<Tc5_1m05>","<Tc5_1m65>","<Tc5_2m25>","<Tc5_2m55>","<Tc5_2m85>","<Tc5_3m15>","<Tc5_3m45>","<Tc5_3m75>","<Tc5_4m05>"], "range": ["black","#ff0000","#22ee22","#1a1aff","#bc8f8f","#9400d3","#ff40e0","#4cb82e","#ff8c00","black"]}, "legend": {"title": null, "legendX": 5, "legendY": 9}},
           "strokeDash": {"field": "s", "type": "nominal", "scale": {"domain": ["<Tc5_0m15>","<Tc5_1m05>","<Tc5_1m65>","<Tc5_2m25>","<Tc5_2m55>","<Tc5_2m85>","<Tc5_3m15>","<Tc5_3m45>","<Tc5_3m75>","<Tc5_4m05>"], "range": [[1,0],[1,0],[1,0],[14,5],[1,0],[22,8],[3,3],[1,0],[18,8],[1,0]]}, "legend": {"title": null}},
           "strokeWidth": {"field": "s", "type": "nominal", "scale": {"type": "ordinal", "domain": ["<Tc5_0m15>","<Tc5_1m05>","<Tc5_1m65>","<Tc5_2m25>","<Tc5_2m55>","<Tc5_2m85>","<Tc5_3m15>","<Tc5_3m45>","<Tc5_3m75>","<Tc5_4m05>"], "range": [1,1,1,1.2,1,1,1.2,1,4.5,1]}, "legend": {"title": null}}
         }},
        {"data": {"name": "bP"}, "mark": {"type": "point", "filled": false, "size": 86, "strokeWidth": 1.1},
         "encoding": {
           "color": {"field": "s", "type": "nominal", "scale": {"domain": ["<Tc5_0m15>","<Tc5_1m05>","<Tc5_1m65>","<Tc5_2m25>","<Tc5_2m55>","<Tc5_2m85>","<Tc5_3m15>","<Tc5_3m45>","<Tc5_3m75>","<Tc5_4m05>"], "range": ["black","#ff0000","#22ee22","#1a1aff","#bc8f8f","#9400d3","#ff40e0","#4cb82e","#ff8c00","black"]}, "legend": {"title": null, "legendX": 5, "legendY": 9}},
           "shape": {"field": "s", "type": "nominal", "scale": {"domain": ["<Tc5_0m15>","<Tc5_1m05>","<Tc5_1m65>","<Tc5_2m25>","<Tc5_2m55>","<Tc5_2m85>","<Tc5_3m15>","<Tc5_3m45>","<Tc5_3m75>","<Tc5_4m05>"], "range": ["M1,0A1,1,0,1,1,-1,0A1,1,0,1,1,1,0Z","M-6.6,0L0.2,0","M-6.6,0L0.2,0","M-6.6,0L0.2,0","M-6.6,0L0.2,0","M-6.6,0L0.2,0","M-6.6,0L0.2,0","M-6.6,0L0.2,0","M-6.6,0L0.2,0","M-1.2,0L1.2,0M0,-1.2L0,1.2"]}, "legend": {"title": null}}
         }},
        {"data": {"values": [{}]}, "mark": {"type": "text", "fontSize": 21, "font": "Liberation Sans", "color": "black"},
         "encoding": {"x": {"datum": 14702}, "y": {"datum": 2555}, "text": {"value": "(b)"}}}
      ]
    },
    {
      "width": 1040, "height": 300,
      "encoding": {
        "x": {"field": "t", "type": "quantitative", "scale": {"domain": [13800, 14750], "nice": false, "zero": false},
              "axis": {"values": [13800,13850,13900,13950,14000,14050,14100,14150,14200,14250,14300,14350,14400,14450,14500,14550,14600,14650,14700,14750], "labels": false, "title": null}},
        "y": {"field": "v", "type": "quantitative", "scale": {"domain": [350, 2800], "nice": false, "zero": false},
              "axis": {"orient": "left", "values": [500,750,1000,1250,1500,1750,2000,2250,2500,2750], "labelExpr": "datum.value % 500 === 0 ? datum.label : ''", "format": "d", "labelFontSize": 24, "labelPadding": 14, "title": "Temperature (K)", "titleFontSize": 23, "titleFontWeight": "bold", "titlePadding": 8}}
      },
      "layer": [
        {"data": {"name": "cL"}, "mark": {"type": "line", "clip": true},
         "encoding": {
           "color": {"field": "s", "type": "nominal", "scale": {"domain": ["<Tc9_0m15>","<Tc9_1m05>","<Tc9_1m65>","<Tc9_2m25>","<Tc9_2m55>","<Tc9_2m85>","<Tc9_3m15>","<Tc9_3m45>","<Tc9_3m75>","<Tc9_4m05>"], "range": ["black","#ff0000","#22ee22","#1a1aff","#bc8f8f","#9400d3","#4cb82e","#ff0000","#ff8c00","black"]}, "legend": {"title": null, "legendX": 5, "legendY": 10}},
           "strokeDash": {"field": "s", "type": "nominal", "scale": {"domain": ["<Tc9_0m15>","<Tc9_1m05>","<Tc9_1m65>","<Tc9_2m25>","<Tc9_2m55>","<Tc9_2m85>","<Tc9_3m15>","<Tc9_3m45>","<Tc9_3m75>","<Tc9_4m05>"], "range": [[1,0],[14,8],[1,0],[14,5],[1,0],[28,8],[14,8],[24,8],[18,8],[1,0]]}, "legend": {"title": null}},
           "strokeWidth": {"field": "s", "type": "nominal", "scale": {"type": "ordinal", "domain": ["<Tc9_0m15>","<Tc9_1m05>","<Tc9_1m65>","<Tc9_2m25>","<Tc9_2m55>","<Tc9_2m85>","<Tc9_3m15>","<Tc9_3m45>","<Tc9_3m75>","<Tc9_4m05>"], "range": [1,4,1,1.2,1,4.5,4,1,4.5,1]}, "legend": {"title": null}}
         }},
        {"data": {"name": "cP"}, "mark": {"type": "point", "filled": false, "size": 86, "strokeWidth": 1.1},
         "encoding": {
           "color": {"field": "s", "type": "nominal", "scale": {"domain": ["<Tc9_0m15>","<Tc9_1m05>","<Tc9_1m65>","<Tc9_2m25>","<Tc9_2m55>","<Tc9_2m85>","<Tc9_3m15>","<Tc9_3m45>","<Tc9_3m75>","<Tc9_4m05>"], "range": ["black","#ff0000","#22ee22","#1a1aff","#bc8f8f","#9400d3","#4cb82e","#ff0000","#ff8c00","black"]}, "legend": {"title": null, "legendX": 5, "legendY": 10}},
           "shape": {"field": "s", "type": "nominal", "scale": {"domain": ["<Tc9_0m15>","<Tc9_1m05>","<Tc9_1m65>","<Tc9_2m25>","<Tc9_2m55>","<Tc9_2m85>","<Tc9_3m15>","<Tc9_3m45>","<Tc9_3m75>","<Tc9_4m05>"], "range": ["M1,0A1,1,0,1,1,-1,0A1,1,0,1,1,1,0Z","M-6.6,0L0.2,0","M-6.6,0L0.2,0","M-6.6,0L0.2,0","M-6.6,0L0.2,0","M-6.6,0L0.2,0","M-6.6,0L0.2,0","M-6.6,0L0.2,0","M-6.6,0L0.2,0","M-1.2,0L1.2,0M0,-1.2L0,1.2"]}, "legend": {"title": null}}
         }},
        {"data": {"values": [{}]}, "mark": {"type": "text", "fontSize": 21, "font": "Liberation Sans", "color": "black"},
         "encoding": {"x": {"datum": 14709}, "y": {"datum": 2506}, "text": {"value": "(c)"}}}
      ]
    },
    {
      "width": 1040, "height": 300,
      "encoding": {
        "x": {"field": "t", "type": "quantitative", "scale": {"domain": [13800, 14750], "nice": false, "zero": false},
              "axis": {"values": [13800,13850,13900,13950,14000,14050,14100,14150,14200,14250,14300,14350,14400,14450,14500,14550,14600,14650,14700,14750], "labels": false, "title": null}},
        "y": {"field": "v", "type": "quantitative", "scale": {"domain": [350, 1500], "nice": false, "zero": false},
              "axis": {"orient": "right", "values": [500,625,750,875,1000,1125,1250,1375,1500], "labelExpr": "datum.value % 250 === 0 ? datum.label : ''", "format": "d", "labelFontSize": 24, "labelPadding": 18, "title": "Heat Structure Temperature (K)", "titleFontSize": 23, "titleFontWeight": "bold", "titlePadding": 8}}
      },
      "layer": [
        {"data": {"name": "dL"}, "mark": {"type": "line", "clip": true},
         "encoding": {
           "color": {"field": "s", "type": "nominal", "scale": {"domain": ["<Tc9_0m15>","<UpCs_002>","<UpCs_003>","<UpCs_004>","<UpCs_005>"], "range": ["black","#ff0000","#22ee22","#1a1aff","#4cb82e"]}, "legend": {"title": null, "legendX": 214, "legendY": 19}},
           "strokeDash": {"field": "s", "type": "nominal", "scale": {"domain": ["<Tc9_0m15>","<UpCs_002>","<UpCs_003>","<UpCs_004>","<UpCs_005>"], "range": [[1,0],[1,0],[1,0],[14,6],[26,8]]}, "legend": {"title": null}},
           "strokeWidth": {"field": "s", "type": "nominal", "scale": {"type": "ordinal", "domain": ["<Tc9_0m15>","<UpCs_002>","<UpCs_003>","<UpCs_004>","<UpCs_005>"], "range": [1,1,1,1.2,1]}, "legend": {"title": null}}
         }},
        {"data": {"name": "dP"}, "mark": {"type": "point", "filled": false, "size": 86, "strokeWidth": 1.1},
         "encoding": {
           "color": {"field": "s", "type": "nominal", "scale": {"domain": ["<Tc9_0m15>","<UpCs_002>","<UpCs_003>","<UpCs_004>","<UpCs_005>"], "range": ["black","#ff0000","#22ee22","#1a1aff","#4cb82e"]}, "legend": {"title": null, "legendX": 214, "legendY": 19}},
           "shape": {"field": "s", "type": "nominal", "scale": {"domain": ["<Tc9_0m15>","<UpCs_002>","<UpCs_003>","<UpCs_004>","<UpCs_005>"], "range": ["M1,0A1,1,0,1,1,-1,0A1,1,0,1,1,1,0Z","M-6.6,0L0.2,0","M-6.6,0L0.2,0","M-6.6,0L0.2,0","M-6.6,0L0.2,0"]}, "legend": {"title": null}}
         }},
        {"data": {"values": [{}]}, "mark": {"type": "text", "fontSize": 21, "font": "Liberation Sans", "color": "black"},
         "encoding": {"x": {"datum": 14709}, "y": {"datum": 1358}, "text": {"value": "(d)"}}}
      ]
    },
    {
      "width": 1040, "height": 300,
      "encoding": {
        "x": {"field": "t", "type": "quantitative", "scale": {"domain": [13800, 14750], "nice": false, "zero": false},
              "axis": {"values": [13800,13850,13900,13950,14000,14050,14100,14150,14200,14250,14300,14350,14400,14450,14500,14550,14600,14650,14700,14750], "labelExpr": "datum.value % 100 === 0 && datum.value < 14750 ? datum.label : ''", "format": "d", "labelFont": "Liberation Sans", "labelFontSize": 31, "labelPadding": 10, "labelFlush": false, "labelOverlap": false, "title": "Time (s)", "titleFont": "Liberation Sans", "titleFontSize": 32, "titleFontWeight": "bold", "titlePadding": 6}},
        "y": {"field": "v", "type": "quantitative", "scale": {"domain": [350, 1500], "nice": false, "zero": false},
              "axis": {"orient": "right", "values": [500,625,750,875,1000,1125,1250,1375,1500], "labelExpr": "datum.value % 250 === 0 ? datum.label : ''", "format": "d", "labelFontSize": 24, "labelPadding": 18, "title": null}}
      },
      "layer": [
        {"data": {"name": "eL"}, "mark": {"type": "line", "clip": true},
         "encoding": {
           "color": {"field": "s", "type": "nominal", "scale": {"domain": ["<U_Col1_b>","<U_Col1_t>","<U_Col2_b>","<U_Col2_t>","<U_Col2_b> ","<U_Col3_t>"], "range": ["black","#ff0000","#22ee22","#1a1aff","#4cb82e","#bc8f8f"]}, "legend": {"title": null, "legendX": 214, "legendY": 19}},
           "strokeDash": {"field": "s", "type": "nominal", "scale": {"domain": ["<U_Col1_b>","<U_Col1_t>","<U_Col2_b>","<U_Col2_t>","<U_Col2_b> ","<U_Col3_t>"], "range": [[1,0],[1,0],[1,0],[12,5],[1,0],[1,0]]}, "legend": {"title": null}},
           "strokeWidth": {"field": "s", "type": "nominal", "scale": {"type": "ordinal", "domain": ["<U_Col1_b>","<U_Col1_t>","<U_Col2_b>","<U_Col2_t>","<U_Col2_b> ","<U_Col3_t>"], "range": [1,1,1,2,1,1]}, "legend": {"title": null}}
         }},
        {"data": {"name": "eP"}, "mark": {"type": "point", "filled": false, "size": 86, "strokeWidth": 1.1},
         "encoding": {
           "color": {"field": "s", "type": "nominal", "scale": {"domain": ["<U_Col1_b>","<U_Col1_t>","<U_Col2_b>","<U_Col2_t>","<U_Col2_b> ","<U_Col3_t>"], "range": ["black","#ff0000","#22ee22","#1a1aff","#4cb82e","#bc8f8f"]}, "legend": {"title": null, "legendX": 214, "legendY": 19}},
           "shape": {"field": "s", "type": "nominal", "scale": {"domain": ["<U_Col1_b>","<U_Col1_t>","<U_Col2_b>","<U_Col2_t>","<U_Col2_b> ","<U_Col3_t>"], "range": ["M1,0A1,1,0,1,1,-1,0A1,1,0,1,1,1,0Z","M-6.6,0L0.2,0","M-6.6,0L0.2,0","M-6.6,0L0.2,0","M-6.6,0L0.2,0","M-6.6,0L0.2,0"]}, "legend": {"title": null}}
         }},
        {"data": {"values": [{}]}, "mark": {"type": "text", "fontSize": 21, "font": "Liberation Sans", "color": "black"},
         "encoding": {"x": {"datum": 14709}, "y": {"datum": 1358}, "text": {"value": "(e)"}}}
      ]
    }
  ],
  "resolve": {
    "scale": {"x": "independent", "y": "independent", "color": "independent", "shape": "independent", "strokeDash": "independent", "strokeWidth": "independent"},
    "legend": {"color": "independent", "shape": "independent", "strokeDash": "independent", "strokeWidth": "independent"}
  },
  "config": {
    "font": "Liberation Sans",
    "view": {"stroke": "black", "strokeWidth": 3},
    "axis": {"grid": true, "gridColor": "#00e6e6", "gridDash": [4, 3], "gridWidth": 1, "domain": false, "ticks": false, "labelFont": "Liberation Sans", "titleFont": "Liberation Sans", "labelColor": "black", "titleColor": "black", "labelFlush": false, "labelOverlap": false},
    "legend": {"orient": "none", "labelFont": "Liberation Sans", "labelFontSize": 15.5, "labelColor": "black", "strokeColor": "#9a32d6", "fillColor": "white", "padding": 6, "symbolOffset": 24, "labelOffset": 2, "rowPadding": 3.5, "symbolSize": 72}
  }
}
